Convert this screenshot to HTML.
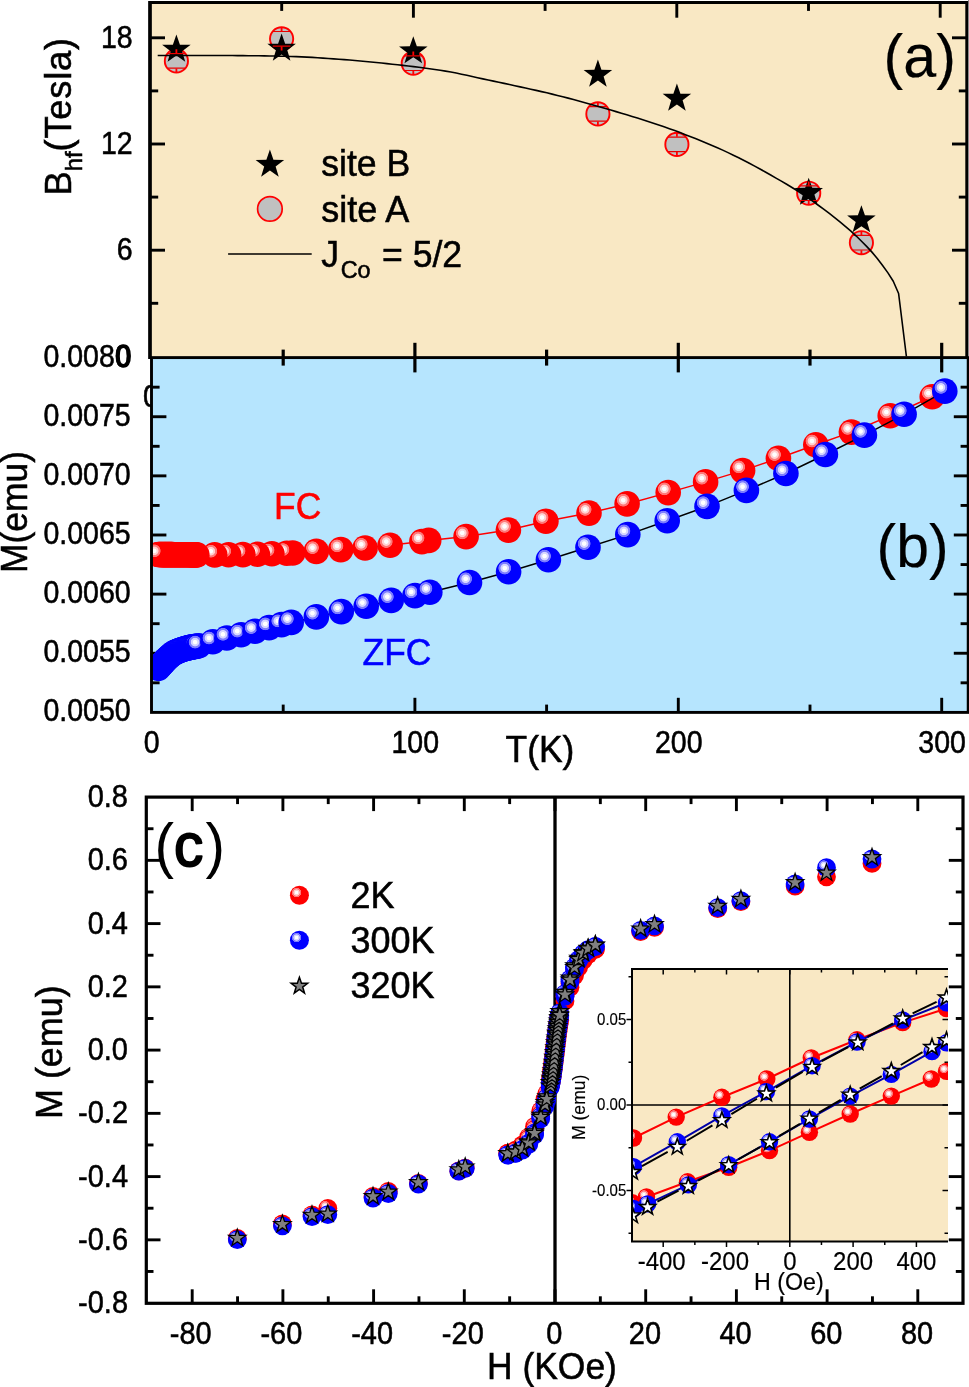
<!DOCTYPE html>
<html lang="en"><head><meta charset="utf-8"><title>Figure</title>
<style>html,body{margin:0;padding:0;background:#fff;overflow:hidden}svg{display:block;will-change:transform}text{font-family:"Liberation Sans", Arial, Helvetica, sans-serif}</style></head><body>
<svg width="969" height="1387" viewBox="0 0 969 1387">
<defs>
<radialGradient id="gr" cx="0.35" cy="0.355" r="0.26"><stop offset="0" stop-color="#fff"/><stop offset="0.28" stop-color="#fff"/><stop offset="0.40" stop-color="#ffd2d2"/><stop offset="0.58" stop-color="#ffd2d2"/><stop offset="0.70" stop-color="#ff7878"/><stop offset="0.90" stop-color="#ff7878"/><stop offset="1" stop-color="#ff0000"/></radialGradient>
<radialGradient id="gb" cx="0.35" cy="0.355" r="0.26"><stop offset="0" stop-color="#fff"/><stop offset="0.28" stop-color="#fff"/><stop offset="0.40" stop-color="#d6d6ff"/><stop offset="0.58" stop-color="#d6d6ff"/><stop offset="0.70" stop-color="#7c7cff"/><stop offset="0.90" stop-color="#7c7cff"/><stop offset="1" stop-color="#0000ff"/></radialGradient>
<clipPath id="clipB"><rect x="151.5" y="357.6" width="817.5" height="354.8"/></clipPath>
<clipPath id="clipI"><rect x="632" y="969" width="316" height="272.5"/></clipPath>
<clipPath id="clipA0"><rect x="0" y="0" width="969" height="355.2"/></clipPath>
</defs>
<rect x="0" y="0" width="969" height="1387" fill="#fff"/>
<rect x="150.0" y="2.5" width="816.7" height="355.1" fill="#f9e8c4"/>
<line x1="281.7" y1="2.5" x2="281.7" y2="10.9" stroke="#000" stroke-width="2.9"/>
<line x1="413.4" y1="2.5" x2="413.4" y2="17.7" stroke="#000" stroke-width="2.9"/>
<line x1="545.1" y1="2.5" x2="545.1" y2="10.9" stroke="#000" stroke-width="2.9"/>
<line x1="676.8" y1="2.5" x2="676.8" y2="17.7" stroke="#000" stroke-width="2.9"/>
<line x1="808.5" y1="2.5" x2="808.5" y2="10.9" stroke="#000" stroke-width="2.9"/>
<line x1="940.2" y1="2.5" x2="940.2" y2="17.7" stroke="#000" stroke-width="2.9"/>
<line x1="150" y1="303.3" x2="158.2" y2="303.3" stroke="#000" stroke-width="2.9"/>
<line x1="966.7" y1="303.3" x2="958.8" y2="303.3" stroke="#000" stroke-width="2.9"/>
<line x1="150" y1="250.2" x2="165" y2="250.2" stroke="#000" stroke-width="2.9"/>
<line x1="966.7" y1="250.2" x2="952" y2="250.2" stroke="#000" stroke-width="2.9"/>
<line x1="150" y1="197.1" x2="158.2" y2="197.1" stroke="#000" stroke-width="2.9"/>
<line x1="966.7" y1="197.1" x2="958.8" y2="197.1" stroke="#000" stroke-width="2.9"/>
<line x1="150" y1="144" x2="165" y2="144" stroke="#000" stroke-width="2.9"/>
<line x1="966.7" y1="144" x2="952" y2="144" stroke="#000" stroke-width="2.9"/>
<line x1="150" y1="90.9" x2="158.2" y2="90.9" stroke="#000" stroke-width="2.9"/>
<line x1="966.7" y1="90.9" x2="958.8" y2="90.9" stroke="#000" stroke-width="2.9"/>
<line x1="150" y1="37.8" x2="165" y2="37.8" stroke="#000" stroke-width="2.9"/>
<line x1="966.7" y1="37.8" x2="952" y2="37.8" stroke="#000" stroke-width="2.9"/>
<circle cx="176.4" cy="60.9" r="11.6" fill="#c0c0c0" stroke="#ff0000" stroke-width="1.9"/>
<circle cx="281.6" cy="38.8" r="11.6" fill="#c0c0c0" stroke="#ff0000" stroke-width="1.9"/>
<circle cx="413.3" cy="63.2" r="11.6" fill="#c0c0c0" stroke="#ff0000" stroke-width="1.9"/>
<circle cx="597.9" cy="113.9" r="11.6" fill="#c0c0c0" stroke="#ff0000" stroke-width="1.9"/>
<circle cx="676.9" cy="144.4" r="11.6" fill="#c0c0c0" stroke="#ff0000" stroke-width="1.9"/>
<circle cx="808.7" cy="193.2" r="11.6" fill="#c0c0c0" stroke="#ff0000" stroke-width="1.9"/>
<circle cx="861.4" cy="242.7" r="11.6" fill="#c0c0c0" stroke="#ff0000" stroke-width="1.9"/>
<polygon points="176.4,34.5 179.93,44.65 190.67,44.86 182.11,51.35 185.22,61.64 176.4,55.5 167.58,61.64 170.69,51.35 162.13,44.86 172.87,44.65" fill="#000"/>
<polygon points="281.6,33.5 285.13,43.65 295.87,43.86 287.31,50.35 290.42,60.64 281.6,54.5 272.78,60.64 275.89,50.35 267.33,43.86 278.07,43.65" fill="#000"/>
<polygon points="413.3,36.2 416.83,46.35 427.57,46.56 419.01,53.05 422.12,63.34 413.3,57.2 404.48,63.34 407.59,53.05 399.03,46.56 409.77,46.35" fill="#000"/>
<polygon points="597.9,59.6 601.43,69.75 612.17,69.96 603.61,76.45 606.72,86.74 597.9,80.6 589.08,86.74 592.19,76.45 583.63,69.96 594.37,69.75" fill="#000"/>
<polygon points="676.9,83.5 680.43,93.65 691.17,93.86 682.61,100.35 685.72,110.64 676.9,104.5 668.08,110.64 671.19,100.35 662.63,93.86 673.37,93.65" fill="#000"/>
<polygon points="808.7,177.7 812.23,187.85 822.97,188.06 814.41,194.55 817.52,204.84 808.7,198.7 799.88,204.84 802.99,194.55 794.43,188.06 805.17,187.85" fill="#000"/>
<polygon points="861.4,205.2 864.93,215.35 875.67,215.56 867.11,222.05 870.22,232.34 861.4,226.2 852.58,232.34 855.69,222.05 847.13,215.56 857.87,215.35" fill="#000"/>
<path stroke="#e80000" stroke-width="1.2" fill="none" d="M167.6 53.6H185.2M167.6 68.2H185.2"/><path stroke="#ff0000" stroke-width="1.8" fill="none" d="M176.4 49.3V53.3M176.4 72.5V68.5"/>
<path stroke="#e80000" stroke-width="1.2" fill="none" d="M272.8 31.5H290.4M272.8 46.1H290.4"/><path stroke="#ff0000" stroke-width="1.8" fill="none" d="M281.6 27.2V31.2M281.6 50.4V46.4"/>
<path stroke="#e80000" stroke-width="1.2" fill="none" d="M404.5 55.9H422.1M404.5 70.5H422.1"/><path stroke="#ff0000" stroke-width="1.8" fill="none" d="M413.3 51.6V55.6M413.3 74.8V70.8"/>
<path stroke="#e80000" stroke-width="1.2" fill="none" d="M589.1 106.6H606.7M589.1 121.2H606.7"/><path stroke="#ff0000" stroke-width="1.8" fill="none" d="M597.9 102.3V106.3M597.9 125.5V121.5"/>
<path stroke="#e80000" stroke-width="1.2" fill="none" d="M668.1 137.1H685.7M668.1 151.7H685.7"/><path stroke="#ff0000" stroke-width="1.8" fill="none" d="M676.9 132.8V136.8M676.9 156V152"/>
<path stroke="#e80000" stroke-width="1.2" fill="none" d="M799.9 185.9H817.5M799.9 200.5H817.5"/><path stroke="#ff0000" stroke-width="1.8" fill="none" d="M808.7 181.6V185.6M808.7 204.8V200.8"/>
<path stroke="#e80000" stroke-width="1.2" fill="none" d="M852.6 235.4H870.2M852.6 250H870.2"/><path stroke="#ff0000" stroke-width="1.8" fill="none" d="M861.4 231.1V235.1M861.4 254.3V250.3"/>
<path d="M157.7 55.5 L163.03 55.5 L168.36 55.5 L173.69 55.5 L179.02 55.5 L184.35 55.5 L189.68 55.5 L195.01 55.5 L200.34 55.5 L205.67 55.5 L211 55.5 L216.33 55.5 L221.66 55.52 L226.99 55.54 L232.32 55.57 L237.65 55.61 L242.98 55.65 L248.31 55.7 L253.64 55.75 L258.97 55.81 L264.3 55.87 L269.63 55.96 L274.96 56.06 L280.29 56.18 L285.63 56.31 L290.96 56.46 L296.29 56.63 L301.62 56.83 L306.95 57.09 L312.28 57.39 L317.61 57.73 L322.94 58.09 L328.27 58.47 L333.6 58.84 L338.93 59.23 L344.26 59.64 L349.59 60.07 L354.92 60.53 L360.25 61.01 L365.58 61.5 L370.91 62 L376.24 62.52 L381.57 63.06 L386.9 63.62 L392.23 64.19 L397.56 64.78 L402.89 65.39 L408.22 66.01 L413.55 66.65 L418.88 67.31 L424.21 68.01 L429.54 68.73 L434.87 69.49 L440.2 70.29 L445.53 71.14 L450.86 72.05 L456.19 73.06 L461.52 74.16 L466.85 75.31 L472.18 76.5 L477.51 77.69 L482.84 78.87 L488.17 80.01 L493.5 81.14 L498.83 82.27 L504.16 83.39 L509.49 84.53 L514.82 85.68 L520.15 86.85 L525.48 88.02 L530.82 89.2 L536.15 90.4 L541.48 91.61 L546.81 92.84 L552.14 94.11 L557.47 95.41 L562.8 96.75 L568.13 98.13 L573.46 99.54 L578.79 100.98 L584.12 102.43 L589.45 103.91 L594.78 105.4 L600.11 106.92 L605.44 108.47 L610.77 110.04 L616.1 111.63 L621.43 113.23 L626.76 114.85 L632.09 116.47 L637.42 118.11 L642.75 119.75 L648.08 121.43 L653.41 123.16 L658.74 124.93 L664.07 126.77 L669.4 128.66 L674.73 130.6 L680.06 132.59 L685.39 134.63 L690.72 136.7 L696.05 138.81 L701.38 140.96 L706.71 143.16 L712.04 145.42 L717.37 147.74 L722.7 150.14 L728.03 152.61 L733.36 155.18 L738.69 157.84 L744.02 160.55 L749.35 163.32 L754.68 166.15 L760.01 169.05 L765.34 172.02 L770.67 175.03 L776.01 178.08 L781.34 181.14 L786.67 184.26 L792 187.45 L797.33 190.76 L802.66 194.23 L807.99 197.86 L813.32 201.61 L818.65 205.48 L823.98 209.43 L829.31 213.46 L834.64 217.59 L839.97 221.85 L845.3 226.27 L850.63 230.89 L855.96 235.8 L861.29 240.99 L866.62 246.38 L871.95 252.13 L877.28 258.5 L882.61 265.49 L887.94 272.88 L893.27 281.23 L898.6 293.5 L906.4 356.5" fill="none" stroke="#000" stroke-width="1.6" stroke-linejoin="round"/>
<polygon points="269.9,149.6 273.43,159.75 284.17,159.96 275.61,166.45 278.72,176.74 269.9,170.6 261.08,176.74 264.19,166.45 255.63,159.96 266.37,159.75" fill="#000"/>
<circle cx="269.9" cy="208.9" r="12.3" fill="#c0c0c0" stroke="#ff0000" stroke-width="1.7"/>
<line x1="228.1" y1="254" x2="311.7" y2="254" stroke="#000" stroke-width="1.6"/>
<text transform="translate(321.2 176.3) scale(0.955 1)" font-size="37.3" text-anchor="start" fill="#000" stroke="#000" stroke-width="0.55">site B</text>
<text transform="translate(321.2 221.7) scale(0.965 1)" font-size="37.3" text-anchor="start" fill="#000" stroke="#000" stroke-width="0.55">site A</text>
<text transform="translate(321.2 266.8) scale(0.955 1)" font-size="37.3" text-anchor="start" fill="#000" stroke="#000" stroke-width="0.55">J<tspan font-size="24.5" dy="11" dx="1.8">Co</tspan><tspan dy="-11" dx="1.5"> = 5/2</tspan></text>
<text transform="translate(883.5 76.6) scale(0.955 1)" font-size="62" text-anchor="start" fill="#000" stroke="#000" stroke-width="0.2">(a)</text>
<text transform="translate(132.6 47.5) scale(0.935 1)" font-size="30.5" text-anchor="end" fill="#000" stroke="#000" stroke-width="0.55">18</text>
<text transform="translate(132.6 153.7) scale(0.935 1)" font-size="30.5" text-anchor="end" fill="#000" stroke="#000" stroke-width="0.55">12</text>
<text transform="translate(132.6 259.9) scale(0.935 1)" font-size="30.5" text-anchor="end" fill="#000" stroke="#000" stroke-width="0.55">6</text>
<text transform="translate(70.8 195.5) rotate(-90) scale(0.97 1)" font-size="37.5" text-anchor="start" fill="#000" stroke="#000" stroke-width="0.55">B<tspan font-size="24.5" dy="11">hf</tspan><tspan dy="-11" letter-spacing="0.75">(Tesla)</tspan></text>
<text transform="translate(131.3 366.7) scale(0.935 1)" font-size="30.5" text-anchor="end" fill="#000" stroke="#000" stroke-width="1.5">0</text>
<text transform="translate(151 406.5) scale(0.935 1)" font-size="30.5" text-anchor="middle" fill="#000" stroke="#000" stroke-width="0.55">0</text>
<rect x="151.5" y="357.6" width="816.7" height="354.8" fill="#b6e5fe"/>
<line x1="283.2" y1="349.6" x2="283.2" y2="365.6" stroke="#000" stroke-width="3.2"/>
<line x1="283.2" y1="712.4" x2="283.2" y2="704.6" stroke="#000" stroke-width="2.9"/>
<line x1="414.9" y1="342.8" x2="414.9" y2="372.4" stroke="#000" stroke-width="3.2"/>
<line x1="414.9" y1="712.4" x2="414.9" y2="697.8" stroke="#000" stroke-width="2.9"/>
<line x1="546.6" y1="349.6" x2="546.6" y2="365.6" stroke="#000" stroke-width="3.2"/>
<line x1="546.6" y1="712.4" x2="546.6" y2="704.6" stroke="#000" stroke-width="2.9"/>
<line x1="678.3" y1="342.8" x2="678.3" y2="372.4" stroke="#000" stroke-width="3.2"/>
<line x1="678.3" y1="712.4" x2="678.3" y2="697.8" stroke="#000" stroke-width="2.9"/>
<line x1="810" y1="349.6" x2="810" y2="365.6" stroke="#000" stroke-width="3.2"/>
<line x1="810" y1="712.4" x2="810" y2="704.6" stroke="#000" stroke-width="2.9"/>
<line x1="941.7" y1="342.8" x2="941.7" y2="372.4" stroke="#000" stroke-width="3.2"/>
<line x1="941.7" y1="712.4" x2="941.7" y2="697.8" stroke="#000" stroke-width="2.9"/>
<line x1="151.5" y1="387.17" x2="159.6" y2="387.17" stroke="#000" stroke-width="2.9"/>
<line x1="968.2" y1="387.17" x2="960.6" y2="387.17" stroke="#000" stroke-width="2.9"/>
<line x1="151.5" y1="416.73" x2="166.4" y2="416.73" stroke="#000" stroke-width="2.9"/>
<line x1="968.2" y1="416.73" x2="953.8" y2="416.73" stroke="#000" stroke-width="2.9"/>
<line x1="151.5" y1="446.3" x2="159.6" y2="446.3" stroke="#000" stroke-width="2.9"/>
<line x1="968.2" y1="446.3" x2="960.6" y2="446.3" stroke="#000" stroke-width="2.9"/>
<line x1="151.5" y1="475.86" x2="166.4" y2="475.86" stroke="#000" stroke-width="2.9"/>
<line x1="968.2" y1="475.86" x2="953.8" y2="475.86" stroke="#000" stroke-width="2.9"/>
<line x1="151.5" y1="505.43" x2="159.6" y2="505.43" stroke="#000" stroke-width="2.9"/>
<line x1="968.2" y1="505.43" x2="960.6" y2="505.43" stroke="#000" stroke-width="2.9"/>
<line x1="151.5" y1="534.99" x2="166.4" y2="534.99" stroke="#000" stroke-width="2.9"/>
<line x1="968.2" y1="534.99" x2="953.8" y2="534.99" stroke="#000" stroke-width="2.9"/>
<line x1="151.5" y1="564.56" x2="159.6" y2="564.56" stroke="#000" stroke-width="2.9"/>
<line x1="968.2" y1="564.56" x2="960.6" y2="564.56" stroke="#000" stroke-width="2.9"/>
<line x1="151.5" y1="594.12" x2="166.4" y2="594.12" stroke="#000" stroke-width="2.9"/>
<line x1="968.2" y1="594.12" x2="953.8" y2="594.12" stroke="#000" stroke-width="2.9"/>
<line x1="151.5" y1="623.69" x2="159.6" y2="623.69" stroke="#000" stroke-width="2.9"/>
<line x1="968.2" y1="623.69" x2="960.6" y2="623.69" stroke="#000" stroke-width="2.9"/>
<line x1="151.5" y1="653.25" x2="166.4" y2="653.25" stroke="#000" stroke-width="2.9"/>
<line x1="968.2" y1="653.25" x2="953.8" y2="653.25" stroke="#000" stroke-width="2.9"/>
<line x1="151.5" y1="682.82" x2="159.6" y2="682.82" stroke="#000" stroke-width="2.9"/>
<line x1="968.2" y1="682.82" x2="960.6" y2="682.82" stroke="#000" stroke-width="2.9"/>
<g clip-path="url(#clipB)">
<polyline fill="none" stroke="#ff0000" stroke-width="1.5" points="158.09,554.55 159.2,554.56 160.3,554.57 161.41,554.58 162.52,554.59 163.62,554.6 164.73,554.61 165.83,554.62 166.94,554.63 168.05,554.64 169.15,554.65 170.26,554.65 171.37,554.66 172.47,554.67 173.58,554.68 174.68,554.69 175.79,554.7 176.9,554.71 178,554.72 179.11,554.73 180.22,554.74 181.32,554.75 182.43,554.76 183.53,554.77 184.64,554.78 185.75,554.79 186.85,554.79 187.96,554.8 189.07,554.81 190.17,554.82 191.28,554.83 192.38,554.84 193.49,554.85 194.6,554.86 195.7,554.87 196.81,554.88 214.7,554.9 228.6,554.8 242.9,554.6 257.4,554.2 271.9,553.8 286.8,553.3 292.7,553 316.3,551.4 340.8,549.6 365.1,548 390.1,545.3 421.9,541.6 428.7,540.4 466.1,536.6 508.4,530.1 545.9,521.2 589,513.1 627.1,503.9 668.2,492.6 705.6,481.9 742.6,470.6 778.4,458.3 815.8,444.7 851.4,432.1 890.2,415.8 932.2,396.8"/>
<circle cx="932.2" cy="396.8" r="12.8" fill="url(#gr)"/>
<circle cx="890.2" cy="415.8" r="12.8" fill="url(#gr)"/>
<circle cx="851.4" cy="432.1" r="12.8" fill="url(#gr)"/>
<circle cx="815.8" cy="444.7" r="12.8" fill="url(#gr)"/>
<circle cx="778.4" cy="458.3" r="12.8" fill="url(#gr)"/>
<circle cx="742.6" cy="470.6" r="12.8" fill="url(#gr)"/>
<circle cx="705.6" cy="481.9" r="12.8" fill="url(#gr)"/>
<circle cx="668.2" cy="492.6" r="12.8" fill="url(#gr)"/>
<circle cx="627.1" cy="503.9" r="12.8" fill="url(#gr)"/>
<circle cx="589" cy="513.1" r="12.8" fill="url(#gr)"/>
<circle cx="545.9" cy="521.2" r="12.8" fill="url(#gr)"/>
<circle cx="508.4" cy="530.1" r="12.8" fill="url(#gr)"/>
<circle cx="466.1" cy="536.6" r="12.8" fill="url(#gr)"/>
<circle cx="428.7" cy="540.4" r="12.8" fill="url(#gr)"/>
<circle cx="421.9" cy="541.6" r="12.8" fill="url(#gr)"/>
<circle cx="390.1" cy="545.3" r="12.8" fill="url(#gr)"/>
<circle cx="365.1" cy="548" r="12.8" fill="url(#gr)"/>
<circle cx="340.8" cy="549.6" r="12.8" fill="url(#gr)"/>
<circle cx="316.3" cy="551.4" r="12.8" fill="url(#gr)"/>
<circle cx="292.7" cy="553" r="12.8" fill="url(#gr)"/>
<circle cx="286.8" cy="553.3" r="12.8" fill="url(#gr)"/>
<circle cx="271.9" cy="553.8" r="12.8" fill="url(#gr)"/>
<circle cx="257.4" cy="554.2" r="12.8" fill="url(#gr)"/>
<circle cx="242.9" cy="554.6" r="12.8" fill="url(#gr)"/>
<circle cx="228.6" cy="554.8" r="12.8" fill="url(#gr)"/>
<circle cx="214.7" cy="554.9" r="12.8" fill="url(#gr)"/>
<circle cx="196.81" cy="554.88" r="12.8" fill="url(#gr)"/>
<circle cx="195.7" cy="554.87" r="12.8" fill="url(#gr)"/>
<circle cx="194.6" cy="554.86" r="12.8" fill="url(#gr)"/>
<circle cx="193.49" cy="554.85" r="12.8" fill="url(#gr)"/>
<circle cx="192.38" cy="554.84" r="12.8" fill="url(#gr)"/>
<circle cx="191.28" cy="554.83" r="12.8" fill="url(#gr)"/>
<circle cx="190.17" cy="554.82" r="12.8" fill="url(#gr)"/>
<circle cx="189.07" cy="554.81" r="12.8" fill="url(#gr)"/>
<circle cx="187.96" cy="554.8" r="12.8" fill="url(#gr)"/>
<circle cx="186.85" cy="554.79" r="12.8" fill="url(#gr)"/>
<circle cx="185.75" cy="554.79" r="12.8" fill="url(#gr)"/>
<circle cx="184.64" cy="554.78" r="12.8" fill="url(#gr)"/>
<circle cx="183.53" cy="554.77" r="12.8" fill="url(#gr)"/>
<circle cx="182.43" cy="554.76" r="12.8" fill="url(#gr)"/>
<circle cx="181.32" cy="554.75" r="12.8" fill="url(#gr)"/>
<circle cx="180.22" cy="554.74" r="12.8" fill="url(#gr)"/>
<circle cx="179.11" cy="554.73" r="12.8" fill="url(#gr)"/>
<circle cx="178" cy="554.72" r="12.8" fill="url(#gr)"/>
<circle cx="176.9" cy="554.71" r="12.8" fill="url(#gr)"/>
<circle cx="175.79" cy="554.7" r="12.8" fill="url(#gr)"/>
<circle cx="174.68" cy="554.69" r="12.8" fill="url(#gr)"/>
<circle cx="173.58" cy="554.68" r="12.8" fill="url(#gr)"/>
<circle cx="172.47" cy="554.67" r="12.8" fill="url(#gr)"/>
<circle cx="171.37" cy="554.66" r="12.8" fill="url(#gr)"/>
<circle cx="170.26" cy="554.65" r="12.8" fill="url(#gr)"/>
<circle cx="169.15" cy="554.65" r="12.8" fill="url(#gr)"/>
<circle cx="168.05" cy="554.64" r="12.8" fill="url(#gr)"/>
<circle cx="166.94" cy="554.63" r="12.8" fill="url(#gr)"/>
<circle cx="165.83" cy="554.62" r="12.8" fill="url(#gr)"/>
<circle cx="164.73" cy="554.61" r="12.8" fill="url(#gr)"/>
<circle cx="163.62" cy="554.6" r="12.8" fill="url(#gr)"/>
<circle cx="162.52" cy="554.59" r="12.8" fill="url(#gr)"/>
<circle cx="161.41" cy="554.58" r="12.8" fill="url(#gr)"/>
<circle cx="160.3" cy="554.57" r="12.8" fill="url(#gr)"/>
<circle cx="159.2" cy="554.56" r="12.8" fill="url(#gr)"/>
<circle cx="158.09" cy="554.55" r="12.8" fill="url(#gr)"/>
<polyline fill="none" stroke="#000" stroke-width="1.5" points="158.09,668.33 159.2,667.23 160.3,666.05 161.41,664.78 162.52,663.51 163.62,662.28 164.73,661.04 165.83,659.84 166.94,658.71 168.05,657.69 169.15,656.72 170.26,655.79 171.37,654.9 172.47,654.07 173.58,653.32 174.68,652.67 175.79,652.1 176.9,651.57 178,651.08 179.11,650.63 180.22,650.21 181.32,649.81 182.43,649.44 183.53,649.09 184.64,648.76 185.75,648.44 186.85,648.14 187.96,647.86 189.07,647.59 190.17,647.35 191.28,647.13 192.38,646.92 193.49,646.71 194.6,646.52 195.7,646.34 196.81,646.18 198.9,645.8 212.8,641.7 226.8,638 241.1,634.8 255,631.3 269.1,627.6 281.6,624.6 291.2,622.4 316.3,616.9 341.3,611.6 366.2,606.3 391.2,600.4 415,595.6 429.8,592.2 469.5,582.5 508.6,571.8 548.4,559.8 588,547.3 627.8,534.6 667.2,520.8 707,506.4 746.4,490.4 785.9,473.5 825.4,454.5 864.4,435.1 904.1,414.3 944.8,391.1"/>
<circle cx="158.09" cy="668.33" r="12.8" fill="url(#gb)"/>
<circle cx="159.2" cy="667.23" r="12.8" fill="url(#gb)"/>
<circle cx="160.3" cy="666.05" r="12.8" fill="url(#gb)"/>
<circle cx="161.41" cy="664.78" r="12.8" fill="url(#gb)"/>
<circle cx="162.52" cy="663.51" r="12.8" fill="url(#gb)"/>
<circle cx="163.62" cy="662.28" r="12.8" fill="url(#gb)"/>
<circle cx="164.73" cy="661.04" r="12.8" fill="url(#gb)"/>
<circle cx="165.83" cy="659.84" r="12.8" fill="url(#gb)"/>
<circle cx="166.94" cy="658.71" r="12.8" fill="url(#gb)"/>
<circle cx="168.05" cy="657.69" r="12.8" fill="url(#gb)"/>
<circle cx="169.15" cy="656.72" r="12.8" fill="url(#gb)"/>
<circle cx="170.26" cy="655.79" r="12.8" fill="url(#gb)"/>
<circle cx="171.37" cy="654.9" r="12.8" fill="url(#gb)"/>
<circle cx="172.47" cy="654.07" r="12.8" fill="url(#gb)"/>
<circle cx="173.58" cy="653.32" r="12.8" fill="url(#gb)"/>
<circle cx="174.68" cy="652.67" r="12.8" fill="url(#gb)"/>
<circle cx="175.79" cy="652.1" r="12.8" fill="url(#gb)"/>
<circle cx="176.9" cy="651.57" r="12.8" fill="url(#gb)"/>
<circle cx="178" cy="651.08" r="12.8" fill="url(#gb)"/>
<circle cx="179.11" cy="650.63" r="12.8" fill="url(#gb)"/>
<circle cx="180.22" cy="650.21" r="12.8" fill="url(#gb)"/>
<circle cx="181.32" cy="649.81" r="12.8" fill="url(#gb)"/>
<circle cx="182.43" cy="649.44" r="12.8" fill="url(#gb)"/>
<circle cx="183.53" cy="649.09" r="12.8" fill="url(#gb)"/>
<circle cx="184.64" cy="648.76" r="12.8" fill="url(#gb)"/>
<circle cx="185.75" cy="648.44" r="12.8" fill="url(#gb)"/>
<circle cx="186.85" cy="648.14" r="12.8" fill="url(#gb)"/>
<circle cx="187.96" cy="647.86" r="12.8" fill="url(#gb)"/>
<circle cx="189.07" cy="647.59" r="12.8" fill="url(#gb)"/>
<circle cx="190.17" cy="647.35" r="12.8" fill="url(#gb)"/>
<circle cx="191.28" cy="647.13" r="12.8" fill="url(#gb)"/>
<circle cx="192.38" cy="646.92" r="12.8" fill="url(#gb)"/>
<circle cx="193.49" cy="646.71" r="12.8" fill="url(#gb)"/>
<circle cx="194.6" cy="646.52" r="12.8" fill="url(#gb)"/>
<circle cx="195.7" cy="646.34" r="12.8" fill="url(#gb)"/>
<circle cx="196.81" cy="646.18" r="12.8" fill="url(#gb)"/>
<circle cx="198.9" cy="645.8" r="12.8" fill="url(#gb)"/>
<circle cx="212.8" cy="641.7" r="12.8" fill="url(#gb)"/>
<circle cx="226.8" cy="638" r="12.8" fill="url(#gb)"/>
<circle cx="241.1" cy="634.8" r="12.8" fill="url(#gb)"/>
<circle cx="255" cy="631.3" r="12.8" fill="url(#gb)"/>
<circle cx="269.1" cy="627.6" r="12.8" fill="url(#gb)"/>
<circle cx="281.6" cy="624.6" r="12.8" fill="url(#gb)"/>
<circle cx="291.2" cy="622.4" r="12.8" fill="url(#gb)"/>
<circle cx="316.3" cy="616.9" r="12.8" fill="url(#gb)"/>
<circle cx="341.3" cy="611.6" r="12.8" fill="url(#gb)"/>
<circle cx="366.2" cy="606.3" r="12.8" fill="url(#gb)"/>
<circle cx="391.2" cy="600.4" r="12.8" fill="url(#gb)"/>
<circle cx="415" cy="595.6" r="12.8" fill="url(#gb)"/>
<circle cx="429.8" cy="592.2" r="12.8" fill="url(#gb)"/>
<circle cx="469.5" cy="582.5" r="12.8" fill="url(#gb)"/>
<circle cx="508.6" cy="571.8" r="12.8" fill="url(#gb)"/>
<circle cx="548.4" cy="559.8" r="12.8" fill="url(#gb)"/>
<circle cx="588" cy="547.3" r="12.8" fill="url(#gb)"/>
<circle cx="627.8" cy="534.6" r="12.8" fill="url(#gb)"/>
<circle cx="667.2" cy="520.8" r="12.8" fill="url(#gb)"/>
<circle cx="707" cy="506.4" r="12.8" fill="url(#gb)"/>
<circle cx="746.4" cy="490.4" r="12.8" fill="url(#gb)"/>
<circle cx="785.9" cy="473.5" r="12.8" fill="url(#gb)"/>
<circle cx="825.4" cy="454.5" r="12.8" fill="url(#gb)"/>
<circle cx="864.4" cy="435.1" r="12.8" fill="url(#gb)"/>
<circle cx="904.1" cy="414.3" r="12.8" fill="url(#gb)"/>
<circle cx="944.8" cy="391.1" r="12.8" fill="url(#gb)"/>
</g>
<text transform="translate(274 519.3) scale(0.95 1)" font-size="37.3" text-anchor="start" fill="#ff0000" stroke="#ff0000" stroke-width="0.55">FC</text>
<text transform="translate(362.5 665.3) scale(0.95 1)" font-size="37.3" text-anchor="start" fill="#0000ff" stroke="#0000ff" stroke-width="0.55">ZFC</text>
<text transform="translate(876.6 566.9) scale(0.95 1)" font-size="62" text-anchor="start" fill="#000" stroke="#000" stroke-width="0.2">(b)</text>
<line x1="150" y1="1.05" x2="150" y2="359.05" stroke="#000" stroke-width="3.7"/>
<line x1="966.7" y1="1.05" x2="966.7" y2="357.6" stroke="#000" stroke-width="2.8"/>
<line x1="968.5" y1="0" x2="968.5" y2="356" stroke="#8a8a8a" stroke-width="1"/>
<line x1="150" y1="2.5" x2="968.1" y2="2.5" stroke="#000" stroke-width="2.9"/>
<rect x="151.5" y="357.6" width="816.7" height="354.8" fill="none" stroke="#000" stroke-width="2.9"/>
<text transform="translate(130.6 366.6) scale(0.935 1)" font-size="30.5" text-anchor="end" fill="#000" stroke="#000" stroke-width="0.55">0.0080</text>
<text transform="translate(130.6 425.73) scale(0.935 1)" font-size="30.5" text-anchor="end" fill="#000" stroke="#000" stroke-width="0.55">0.0075</text>
<text transform="translate(130.6 484.86) scale(0.935 1)" font-size="30.5" text-anchor="end" fill="#000" stroke="#000" stroke-width="0.55">0.0070</text>
<text transform="translate(130.6 543.99) scale(0.935 1)" font-size="30.5" text-anchor="end" fill="#000" stroke="#000" stroke-width="0.55">0.0065</text>
<text transform="translate(130.6 603.12) scale(0.935 1)" font-size="30.5" text-anchor="end" fill="#000" stroke="#000" stroke-width="0.55">0.0060</text>
<text transform="translate(130.6 662.25) scale(0.935 1)" font-size="30.5" text-anchor="end" fill="#000" stroke="#000" stroke-width="0.55">0.0055</text>
<text transform="translate(130.6 721.38) scale(0.935 1)" font-size="30.5" text-anchor="end" fill="#000" stroke="#000" stroke-width="0.55">0.0050</text>
<text transform="translate(151.7 753) scale(0.935 1)" font-size="30.5" text-anchor="middle" fill="#000" stroke="#000" stroke-width="0.55">0</text>
<text transform="translate(415.3 753) scale(0.935 1)" font-size="30.5" text-anchor="middle" fill="#000" stroke="#000" stroke-width="0.55">100</text>
<text transform="translate(678.7 753) scale(0.935 1)" font-size="30.5" text-anchor="middle" fill="#000" stroke="#000" stroke-width="0.55">200</text>
<text transform="translate(942.1 753) scale(0.935 1)" font-size="30.5" text-anchor="middle" fill="#000" stroke="#000" stroke-width="0.55">300</text>
<text transform="translate(505.5 762.3) scale(0.95 1)" font-size="37.3" text-anchor="start" fill="#000" stroke="#000" stroke-width="0.55">T(K)</text>
<text transform="translate(27.2 573) rotate(-90) scale(0.95 1)" font-size="37.3" text-anchor="start" fill="#000" stroke="#000" stroke-width="0.55">M(emu)</text>
<line x1="192.2" y1="797.1" x2="192.2" y2="811.1" stroke="#000" stroke-width="2.9"/>
<line x1="192.2" y1="1303.3" x2="192.2" y2="1289.3" stroke="#000" stroke-width="2.9"/>
<line x1="237.55" y1="797.1" x2="237.55" y2="804.1" stroke="#000" stroke-width="2.9"/>
<line x1="237.55" y1="1303.3" x2="237.55" y2="1296.3" stroke="#000" stroke-width="2.9"/>
<line x1="282.9" y1="797.1" x2="282.9" y2="811.1" stroke="#000" stroke-width="2.9"/>
<line x1="282.9" y1="1303.3" x2="282.9" y2="1289.3" stroke="#000" stroke-width="2.9"/>
<line x1="328.25" y1="797.1" x2="328.25" y2="804.1" stroke="#000" stroke-width="2.9"/>
<line x1="328.25" y1="1303.3" x2="328.25" y2="1296.3" stroke="#000" stroke-width="2.9"/>
<line x1="373.6" y1="797.1" x2="373.6" y2="811.1" stroke="#000" stroke-width="2.9"/>
<line x1="373.6" y1="1303.3" x2="373.6" y2="1289.3" stroke="#000" stroke-width="2.9"/>
<line x1="418.95" y1="797.1" x2="418.95" y2="804.1" stroke="#000" stroke-width="2.9"/>
<line x1="418.95" y1="1303.3" x2="418.95" y2="1296.3" stroke="#000" stroke-width="2.9"/>
<line x1="464.3" y1="797.1" x2="464.3" y2="811.1" stroke="#000" stroke-width="2.9"/>
<line x1="464.3" y1="1303.3" x2="464.3" y2="1289.3" stroke="#000" stroke-width="2.9"/>
<line x1="509.65" y1="797.1" x2="509.65" y2="804.1" stroke="#000" stroke-width="2.9"/>
<line x1="509.65" y1="1303.3" x2="509.65" y2="1296.3" stroke="#000" stroke-width="2.9"/>
<line x1="555" y1="797.1" x2="555" y2="811.1" stroke="#000" stroke-width="2.9"/>
<line x1="555" y1="1303.3" x2="555" y2="1289.3" stroke="#000" stroke-width="2.9"/>
<line x1="600.35" y1="797.1" x2="600.35" y2="804.1" stroke="#000" stroke-width="2.9"/>
<line x1="600.35" y1="1303.3" x2="600.35" y2="1296.3" stroke="#000" stroke-width="2.9"/>
<line x1="645.7" y1="797.1" x2="645.7" y2="811.1" stroke="#000" stroke-width="2.9"/>
<line x1="645.7" y1="1303.3" x2="645.7" y2="1289.3" stroke="#000" stroke-width="2.9"/>
<line x1="691.05" y1="797.1" x2="691.05" y2="804.1" stroke="#000" stroke-width="2.9"/>
<line x1="691.05" y1="1303.3" x2="691.05" y2="1296.3" stroke="#000" stroke-width="2.9"/>
<line x1="736.4" y1="797.1" x2="736.4" y2="811.1" stroke="#000" stroke-width="2.9"/>
<line x1="736.4" y1="1303.3" x2="736.4" y2="1289.3" stroke="#000" stroke-width="2.9"/>
<line x1="781.75" y1="797.1" x2="781.75" y2="804.1" stroke="#000" stroke-width="2.9"/>
<line x1="781.75" y1="1303.3" x2="781.75" y2="1296.3" stroke="#000" stroke-width="2.9"/>
<line x1="827.1" y1="797.1" x2="827.1" y2="811.1" stroke="#000" stroke-width="2.9"/>
<line x1="827.1" y1="1303.3" x2="827.1" y2="1289.3" stroke="#000" stroke-width="2.9"/>
<line x1="872.45" y1="797.1" x2="872.45" y2="804.1" stroke="#000" stroke-width="2.9"/>
<line x1="872.45" y1="1303.3" x2="872.45" y2="1296.3" stroke="#000" stroke-width="2.9"/>
<line x1="917.8" y1="797.1" x2="917.8" y2="811.1" stroke="#000" stroke-width="2.9"/>
<line x1="917.8" y1="1303.3" x2="917.8" y2="1289.3" stroke="#000" stroke-width="2.9"/>
<line x1="146.3" y1="828.73" x2="153.5" y2="828.73" stroke="#000" stroke-width="2.9"/>
<line x1="963" y1="828.73" x2="955.8" y2="828.73" stroke="#000" stroke-width="2.9"/>
<line x1="146.3" y1="860.35" x2="160.5" y2="860.35" stroke="#000" stroke-width="2.9"/>
<line x1="963" y1="860.35" x2="948.8" y2="860.35" stroke="#000" stroke-width="2.9"/>
<line x1="146.3" y1="891.98" x2="153.5" y2="891.98" stroke="#000" stroke-width="2.9"/>
<line x1="963" y1="891.98" x2="955.8" y2="891.98" stroke="#000" stroke-width="2.9"/>
<line x1="146.3" y1="923.6" x2="160.5" y2="923.6" stroke="#000" stroke-width="2.9"/>
<line x1="963" y1="923.6" x2="948.8" y2="923.6" stroke="#000" stroke-width="2.9"/>
<line x1="146.3" y1="955.23" x2="153.5" y2="955.23" stroke="#000" stroke-width="2.9"/>
<line x1="963" y1="955.23" x2="955.8" y2="955.23" stroke="#000" stroke-width="2.9"/>
<line x1="146.3" y1="986.85" x2="160.5" y2="986.85" stroke="#000" stroke-width="2.9"/>
<line x1="963" y1="986.85" x2="948.8" y2="986.85" stroke="#000" stroke-width="2.9"/>
<line x1="146.3" y1="1018.48" x2="153.5" y2="1018.48" stroke="#000" stroke-width="2.9"/>
<line x1="963" y1="1018.48" x2="955.8" y2="1018.48" stroke="#000" stroke-width="2.9"/>
<line x1="146.3" y1="1050.1" x2="160.5" y2="1050.1" stroke="#000" stroke-width="2.9"/>
<line x1="963" y1="1050.1" x2="948.8" y2="1050.1" stroke="#000" stroke-width="2.9"/>
<line x1="146.3" y1="1081.72" x2="153.5" y2="1081.72" stroke="#000" stroke-width="2.9"/>
<line x1="963" y1="1081.72" x2="955.8" y2="1081.72" stroke="#000" stroke-width="2.9"/>
<line x1="146.3" y1="1113.35" x2="160.5" y2="1113.35" stroke="#000" stroke-width="2.9"/>
<line x1="963" y1="1113.35" x2="948.8" y2="1113.35" stroke="#000" stroke-width="2.9"/>
<line x1="146.3" y1="1144.97" x2="153.5" y2="1144.97" stroke="#000" stroke-width="2.9"/>
<line x1="963" y1="1144.97" x2="955.8" y2="1144.97" stroke="#000" stroke-width="2.9"/>
<line x1="146.3" y1="1176.6" x2="160.5" y2="1176.6" stroke="#000" stroke-width="2.9"/>
<line x1="963" y1="1176.6" x2="948.8" y2="1176.6" stroke="#000" stroke-width="2.9"/>
<line x1="146.3" y1="1208.22" x2="153.5" y2="1208.22" stroke="#000" stroke-width="2.9"/>
<line x1="963" y1="1208.22" x2="955.8" y2="1208.22" stroke="#000" stroke-width="2.9"/>
<line x1="146.3" y1="1239.85" x2="160.5" y2="1239.85" stroke="#000" stroke-width="2.9"/>
<line x1="963" y1="1239.85" x2="948.8" y2="1239.85" stroke="#000" stroke-width="2.9"/>
<line x1="146.3" y1="1271.47" x2="153.5" y2="1271.47" stroke="#000" stroke-width="2.9"/>
<line x1="963" y1="1271.47" x2="955.8" y2="1271.47" stroke="#000" stroke-width="2.9"/>
<line x1="555" y1="797.1" x2="555" y2="1303.3" stroke="#000" stroke-width="3.3"/>
<circle cx="237.3" cy="1238.5" r="9.4" fill="url(#gr)"/>
<circle cx="282.4" cy="1224" r="9.4" fill="url(#gr)"/>
<circle cx="312" cy="1214.8" r="9.4" fill="url(#gr)"/>
<circle cx="327.8" cy="1208.3" r="9.4" fill="url(#gr)"/>
<circle cx="373" cy="1196.4" r="9.4" fill="url(#gr)"/>
<circle cx="388.3" cy="1191.5" r="9.4" fill="url(#gr)"/>
<circle cx="418.4" cy="1183.4" r="9.4" fill="url(#gr)"/>
<circle cx="458.8" cy="1170.9" r="9.4" fill="url(#gr)"/>
<circle cx="465.2" cy="1168.1" r="9.4" fill="url(#gr)"/>
<circle cx="640.6" cy="931.7" r="9.4" fill="url(#gr)"/>
<circle cx="654.5" cy="927.3" r="9.4" fill="url(#gr)"/>
<circle cx="717.7" cy="908.6" r="9.4" fill="url(#gr)"/>
<circle cx="740.9" cy="901.7" r="9.4" fill="url(#gr)"/>
<circle cx="795.1" cy="886" r="9.4" fill="url(#gr)"/>
<circle cx="826.5" cy="876.8" r="9.4" fill="url(#gr)"/>
<circle cx="872" cy="863.4" r="9.4" fill="url(#gr)"/>
<circle cx="595.36" cy="948.88" r="9.4" fill="url(#gr)"/>
<circle cx="588.11" cy="953.83" r="9.4" fill="url(#gr)"/>
<circle cx="583.12" cy="958.96" r="9.4" fill="url(#gr)"/>
<circle cx="578.58" cy="965.13" r="9.4" fill="url(#gr)"/>
<circle cx="574.5" cy="972.41" r="9.4" fill="url(#gr)"/>
<circle cx="569.97" cy="983.5" r="9.4" fill="url(#gr)"/>
<circle cx="564.98" cy="996.52" r="9.4" fill="url(#gr)"/>
<circle cx="559.72" cy="1013.93" r="9.4" fill="url(#gr)"/>
<circle cx="559.08" cy="1016.66" r="9.4" fill="url(#gr)"/>
<circle cx="558.54" cy="1019.2" r="9.4" fill="url(#gr)"/>
<circle cx="557.99" cy="1022.19" r="9.4" fill="url(#gr)"/>
<circle cx="557.45" cy="1025.64" r="9.4" fill="url(#gr)"/>
<circle cx="556.9" cy="1029.38" r="9.4" fill="url(#gr)"/>
<circle cx="556.36" cy="1033.29" r="9.4" fill="url(#gr)"/>
<circle cx="555.82" cy="1037.61" r="9.4" fill="url(#gr)"/>
<circle cx="555.27" cy="1042.22" r="9.4" fill="url(#gr)"/>
<circle cx="554.73" cy="1045.68" r="9.4" fill="url(#gr)"/>
<circle cx="554.18" cy="1050.25" r="9.4" fill="url(#gr)"/>
<circle cx="553.64" cy="1054.89" r="9.4" fill="url(#gr)"/>
<circle cx="553.1" cy="1059.58" r="9.4" fill="url(#gr)"/>
<circle cx="552.55" cy="1064.08" r="9.4" fill="url(#gr)"/>
<circle cx="552.01" cy="1068.2" r="9.4" fill="url(#gr)"/>
<circle cx="551.46" cy="1072.04" r="9.4" fill="url(#gr)"/>
<circle cx="550.92" cy="1075.68" r="9.4" fill="url(#gr)"/>
<circle cx="550.19" cy="1079.92" r="9.4" fill="url(#gr)"/>
<circle cx="546.7" cy="1093.81" r="9.4" fill="url(#gr)"/>
<circle cx="545.02" cy="1099.05" r="9.4" fill="url(#gr)"/>
<circle cx="540.71" cy="1110.94" r="9.4" fill="url(#gr)"/>
<circle cx="534.59" cy="1126.5" r="9.4" fill="url(#gr)"/>
<circle cx="528.7" cy="1137.05" r="9.4" fill="url(#gr)"/>
<circle cx="522.35" cy="1144.86" r="9.4" fill="url(#gr)"/>
<circle cx="515.55" cy="1150.22" r="9.4" fill="url(#gr)"/>
<circle cx="507.84" cy="1153.13" r="9.4" fill="url(#gr)"/>
<circle cx="507.84" cy="1153.47" r="9.4" fill="url(#gr)"/>
<circle cx="515.55" cy="1150.69" r="9.4" fill="url(#gr)"/>
<circle cx="522.35" cy="1145.77" r="9.4" fill="url(#gr)"/>
<circle cx="528.7" cy="1138.79" r="9.4" fill="url(#gr)"/>
<circle cx="534.59" cy="1129.39" r="9.4" fill="url(#gr)"/>
<circle cx="540.71" cy="1114.73" r="9.4" fill="url(#gr)"/>
<circle cx="545.02" cy="1103.48" r="9.4" fill="url(#gr)"/>
<circle cx="546.7" cy="1098.44" r="9.4" fill="url(#gr)"/>
<circle cx="550.19" cy="1086.44" r="9.4" fill="url(#gr)"/>
<circle cx="550.92" cy="1083.34" r="9.4" fill="url(#gr)"/>
<circle cx="551.46" cy="1080.8" r="9.4" fill="url(#gr)"/>
<circle cx="552.01" cy="1077.81" r="9.4" fill="url(#gr)"/>
<circle cx="552.55" cy="1074.36" r="9.4" fill="url(#gr)"/>
<circle cx="553.1" cy="1070.62" r="9.4" fill="url(#gr)"/>
<circle cx="553.64" cy="1066.71" r="9.4" fill="url(#gr)"/>
<circle cx="554.18" cy="1062.39" r="9.4" fill="url(#gr)"/>
<circle cx="554.73" cy="1057.78" r="9.4" fill="url(#gr)"/>
<circle cx="555.27" cy="1054.32" r="9.4" fill="url(#gr)"/>
<circle cx="555.82" cy="1049.75" r="9.4" fill="url(#gr)"/>
<circle cx="556.36" cy="1045.11" r="9.4" fill="url(#gr)"/>
<circle cx="556.9" cy="1040.42" r="9.4" fill="url(#gr)"/>
<circle cx="557.45" cy="1035.92" r="9.4" fill="url(#gr)"/>
<circle cx="557.99" cy="1031.8" r="9.4" fill="url(#gr)"/>
<circle cx="558.54" cy="1027.96" r="9.4" fill="url(#gr)"/>
<circle cx="559.08" cy="1024.32" r="9.4" fill="url(#gr)"/>
<circle cx="559.72" cy="1020.56" r="9.4" fill="url(#gr)"/>
<circle cx="564.98" cy="1000.95" r="9.4" fill="url(#gr)"/>
<circle cx="569.97" cy="987.33" r="9.4" fill="url(#gr)"/>
<circle cx="574.5" cy="975.53" r="9.4" fill="url(#gr)"/>
<circle cx="578.58" cy="967.3" r="9.4" fill="url(#gr)"/>
<circle cx="583.12" cy="960.4" r="9.4" fill="url(#gr)"/>
<circle cx="588.11" cy="954.7" r="9.4" fill="url(#gr)"/>
<circle cx="595.36" cy="949.28" r="9.4" fill="url(#gr)"/>
<circle cx="237.3" cy="1239.7" r="9.4" fill="url(#gb)"/>
<circle cx="282.4" cy="1225.8" r="9.4" fill="url(#gb)"/>
<circle cx="312" cy="1216.6" r="9.4" fill="url(#gb)"/>
<circle cx="327.8" cy="1214.7" r="9.4" fill="url(#gb)"/>
<circle cx="373" cy="1198" r="9.4" fill="url(#gb)"/>
<circle cx="388.3" cy="1193.5" r="9.4" fill="url(#gb)"/>
<circle cx="418.4" cy="1184" r="9.4" fill="url(#gb)"/>
<circle cx="458.8" cy="1171.2" r="9.4" fill="url(#gb)"/>
<circle cx="465.2" cy="1168.4" r="9.4" fill="url(#gb)"/>
<circle cx="640.6" cy="930.3" r="9.4" fill="url(#gb)"/>
<circle cx="654.5" cy="925.9" r="9.4" fill="url(#gb)"/>
<circle cx="717.7" cy="907.6" r="9.4" fill="url(#gb)"/>
<circle cx="740.9" cy="900.7" r="9.4" fill="url(#gb)"/>
<circle cx="795.1" cy="884" r="9.4" fill="url(#gb)"/>
<circle cx="826.5" cy="867.7" r="9.4" fill="url(#gb)"/>
<circle cx="872" cy="859" r="9.4" fill="url(#gb)"/>
<circle cx="595.36" cy="946.31" r="9.4" fill="url(#gb)"/>
<circle cx="588.11" cy="949.65" r="9.4" fill="url(#gb)"/>
<circle cx="583.12" cy="953.76" r="9.4" fill="url(#gb)"/>
<circle cx="578.58" cy="959.55" r="9.4" fill="url(#gb)"/>
<circle cx="574.5" cy="967.18" r="9.4" fill="url(#gb)"/>
<circle cx="569.97" cy="979.27" r="9.4" fill="url(#gb)"/>
<circle cx="564.98" cy="993.64" r="9.4" fill="url(#gb)"/>
<circle cx="559.72" cy="1012.85" r="9.4" fill="url(#gb)"/>
<circle cx="559.08" cy="1015.88" r="9.4" fill="url(#gb)"/>
<circle cx="558.54" cy="1018.78" r="9.4" fill="url(#gb)"/>
<circle cx="557.99" cy="1022.21" r="9.4" fill="url(#gb)"/>
<circle cx="557.45" cy="1026.02" r="9.4" fill="url(#gb)"/>
<circle cx="556.9" cy="1030.05" r="9.4" fill="url(#gb)"/>
<circle cx="556.36" cy="1034.36" r="9.4" fill="url(#gb)"/>
<circle cx="555.82" cy="1039.07" r="9.4" fill="url(#gb)"/>
<circle cx="555.27" cy="1043.96" r="9.4" fill="url(#gb)"/>
<circle cx="554.73" cy="1048.81" r="9.4" fill="url(#gb)"/>
<circle cx="554.18" cy="1053.6" r="9.4" fill="url(#gb)"/>
<circle cx="553.64" cy="1058.5" r="9.4" fill="url(#gb)"/>
<circle cx="553.1" cy="1063.32" r="9.4" fill="url(#gb)"/>
<circle cx="552.55" cy="1067.86" r="9.4" fill="url(#gb)"/>
<circle cx="552.01" cy="1071.98" r="9.4" fill="url(#gb)"/>
<circle cx="551.46" cy="1075.92" r="9.4" fill="url(#gb)"/>
<circle cx="550.92" cy="1079.56" r="9.4" fill="url(#gb)"/>
<circle cx="550.19" cy="1083.67" r="9.4" fill="url(#gb)"/>
<circle cx="546.7" cy="1098.05" r="9.4" fill="url(#gb)"/>
<circle cx="545.02" cy="1103.68" r="9.4" fill="url(#gb)"/>
<circle cx="540.71" cy="1116.54" r="9.4" fill="url(#gb)"/>
<circle cx="534.59" cy="1133.02" r="9.4" fill="url(#gb)"/>
<circle cx="528.7" cy="1143.18" r="9.4" fill="url(#gb)"/>
<circle cx="522.35" cy="1149.51" r="9.4" fill="url(#gb)"/>
<circle cx="515.55" cy="1153.14" r="9.4" fill="url(#gb)"/>
<circle cx="507.84" cy="1154.89" r="9.4" fill="url(#gb)"/>
<circle cx="507.84" cy="1155.1" r="9.4" fill="url(#gb)"/>
<circle cx="515.55" cy="1153.42" r="9.4" fill="url(#gb)"/>
<circle cx="522.35" cy="1150.06" r="9.4" fill="url(#gb)"/>
<circle cx="528.7" cy="1144.23" r="9.4" fill="url(#gb)"/>
<circle cx="534.59" cy="1134.75" r="9.4" fill="url(#gb)"/>
<circle cx="540.71" cy="1118.81" r="9.4" fill="url(#gb)"/>
<circle cx="545.02" cy="1106.36" r="9.4" fill="url(#gb)"/>
<circle cx="546.7" cy="1100.83" r="9.4" fill="url(#gb)"/>
<circle cx="550.19" cy="1087.56" r="9.4" fill="url(#gb)"/>
<circle cx="550.92" cy="1084.12" r="9.4" fill="url(#gb)"/>
<circle cx="551.46" cy="1081.22" r="9.4" fill="url(#gb)"/>
<circle cx="552.01" cy="1077.79" r="9.4" fill="url(#gb)"/>
<circle cx="552.55" cy="1073.98" r="9.4" fill="url(#gb)"/>
<circle cx="553.1" cy="1069.95" r="9.4" fill="url(#gb)"/>
<circle cx="553.64" cy="1065.64" r="9.4" fill="url(#gb)"/>
<circle cx="554.18" cy="1060.93" r="9.4" fill="url(#gb)"/>
<circle cx="554.73" cy="1056.04" r="9.4" fill="url(#gb)"/>
<circle cx="555.27" cy="1051.19" r="9.4" fill="url(#gb)"/>
<circle cx="555.82" cy="1046.4" r="9.4" fill="url(#gb)"/>
<circle cx="556.36" cy="1041.5" r="9.4" fill="url(#gb)"/>
<circle cx="556.9" cy="1036.68" r="9.4" fill="url(#gb)"/>
<circle cx="557.45" cy="1032.14" r="9.4" fill="url(#gb)"/>
<circle cx="557.99" cy="1028.02" r="9.4" fill="url(#gb)"/>
<circle cx="558.54" cy="1024.08" r="9.4" fill="url(#gb)"/>
<circle cx="559.08" cy="1020.44" r="9.4" fill="url(#gb)"/>
<circle cx="559.72" cy="1016.79" r="9.4" fill="url(#gb)"/>
<circle cx="564.98" cy="996.32" r="9.4" fill="url(#gb)"/>
<circle cx="569.97" cy="981.57" r="9.4" fill="url(#gb)"/>
<circle cx="574.5" cy="969.04" r="9.4" fill="url(#gb)"/>
<circle cx="578.58" cy="960.85" r="9.4" fill="url(#gb)"/>
<circle cx="583.12" cy="954.61" r="9.4" fill="url(#gb)"/>
<circle cx="588.11" cy="950.17" r="9.4" fill="url(#gb)"/>
<circle cx="595.36" cy="946.55" r="9.4" fill="url(#gb)"/>
<polygon points="237.3,1229.2 239.42,1235.29 245.86,1235.42 240.72,1239.31 242.59,1245.48 237.3,1241.8 232.01,1245.48 233.88,1239.31 228.74,1235.42 235.18,1235.29" fill="#808080" stroke="#000" stroke-width="1.3" stroke-linejoin="miter"/>
<polygon points="282.4,1215.3 284.52,1221.39 290.96,1221.52 285.82,1225.41 287.69,1231.58 282.4,1227.9 277.11,1231.58 278.98,1225.41 273.84,1221.52 280.28,1221.39" fill="#808080" stroke="#000" stroke-width="1.3" stroke-linejoin="miter"/>
<polygon points="312,1206.1 314.12,1212.19 320.56,1212.32 315.42,1216.21 317.29,1222.38 312,1218.7 306.71,1222.38 308.58,1216.21 303.44,1212.32 309.88,1212.19" fill="#808080" stroke="#000" stroke-width="1.3" stroke-linejoin="miter"/>
<polygon points="327.8,1204.9 329.92,1210.99 336.36,1211.12 331.22,1215.01 333.09,1221.18 327.8,1217.5 322.51,1221.18 324.38,1215.01 319.24,1211.12 325.68,1210.99" fill="#808080" stroke="#000" stroke-width="1.3" stroke-linejoin="miter"/>
<polygon points="373,1187.5 375.12,1193.59 381.56,1193.72 376.42,1197.61 378.29,1203.78 373,1200.1 367.71,1203.78 369.58,1197.61 364.44,1193.72 370.88,1193.59" fill="#808080" stroke="#000" stroke-width="1.3" stroke-linejoin="miter"/>
<polygon points="388.3,1183 390.42,1189.09 396.86,1189.22 391.72,1193.11 393.59,1199.28 388.3,1195.6 383.01,1199.28 384.88,1193.11 379.74,1189.22 386.18,1189.09" fill="#808080" stroke="#000" stroke-width="1.3" stroke-linejoin="miter"/>
<polygon points="418.4,1173.5 420.52,1179.59 426.96,1179.72 421.82,1183.61 423.69,1189.78 418.4,1186.1 413.11,1189.78 414.98,1183.61 409.84,1179.72 416.28,1179.59" fill="#808080" stroke="#000" stroke-width="1.3" stroke-linejoin="miter"/>
<polygon points="458.8,1160.7 460.92,1166.79 467.36,1166.92 462.22,1170.81 464.09,1176.98 458.8,1173.3 453.51,1176.98 455.38,1170.81 450.24,1166.92 456.68,1166.79" fill="#808080" stroke="#000" stroke-width="1.3" stroke-linejoin="miter"/>
<polygon points="465.2,1157.9 467.32,1163.99 473.76,1164.12 468.62,1168.01 470.49,1174.18 465.2,1170.5 459.91,1174.18 461.78,1168.01 456.64,1164.12 463.08,1163.99" fill="#808080" stroke="#000" stroke-width="1.3" stroke-linejoin="miter"/>
<polygon points="640.6,919.8 642.72,925.89 649.16,926.02 644.02,929.91 645.89,936.08 640.6,932.4 635.31,936.08 637.18,929.91 632.04,926.02 638.48,925.89" fill="#808080" stroke="#000" stroke-width="1.3" stroke-linejoin="miter"/>
<polygon points="654.5,915.4 656.62,921.49 663.06,921.62 657.92,925.51 659.79,931.68 654.5,928 649.21,931.68 651.08,925.51 645.94,921.62 652.38,921.49" fill="#808080" stroke="#000" stroke-width="1.3" stroke-linejoin="miter"/>
<polygon points="717.7,897.1 719.82,903.19 726.26,903.32 721.12,907.21 722.99,913.38 717.7,909.7 712.41,913.38 714.28,907.21 709.14,903.32 715.58,903.19" fill="#808080" stroke="#000" stroke-width="1.3" stroke-linejoin="miter"/>
<polygon points="740.9,890.2 743.02,896.29 749.46,896.42 744.32,900.31 746.19,906.48 740.9,902.8 735.61,906.48 737.48,900.31 732.34,896.42 738.78,896.29" fill="#808080" stroke="#000" stroke-width="1.3" stroke-linejoin="miter"/>
<polygon points="795.1,873.5 797.22,879.59 803.66,879.72 798.52,883.61 800.39,889.78 795.1,886.1 789.81,889.78 791.68,883.61 786.54,879.72 792.98,879.59" fill="#808080" stroke="#000" stroke-width="1.3" stroke-linejoin="miter"/>
<polygon points="826.5,863.9 828.62,869.99 835.06,870.12 829.92,874.01 831.79,880.18 826.5,876.5 821.21,880.18 823.08,874.01 817.94,870.12 824.38,869.99" fill="#808080" stroke="#000" stroke-width="1.3" stroke-linejoin="miter"/>
<polygon points="872,848.5 874.12,854.59 880.56,854.72 875.42,858.61 877.29,864.78 872,861.1 866.71,864.78 868.58,858.61 863.44,854.72 869.88,854.59" fill="#808080" stroke="#000" stroke-width="1.3" stroke-linejoin="miter"/>
<polygon points="595.36,935.82 597.48,941.91 603.92,942.04 598.79,945.93 600.65,952.1 595.36,948.42 590.07,952.1 591.94,945.93 586.8,942.04 593.25,941.91" fill="#808080" stroke="#000" stroke-width="1.3" stroke-linejoin="miter"/>
<polygon points="588.11,939.17 590.22,945.26 596.67,945.39 591.53,949.28 593.4,955.45 588.11,951.77 582.82,955.45 584.68,949.28 579.55,945.39 585.99,945.26" fill="#808080" stroke="#000" stroke-width="1.3" stroke-linejoin="miter"/>
<polygon points="583.12,943.28 585.23,949.37 591.68,949.5 586.54,953.4 588.41,959.56 583.12,955.88 577.83,959.56 579.69,953.4 574.56,949.5 581,949.37" fill="#808080" stroke="#000" stroke-width="1.3" stroke-linejoin="miter"/>
<polygon points="578.58,949.09 580.7,955.18 587.14,955.31 582.01,959.2 583.87,965.37 578.58,961.69 573.29,965.37 575.16,959.2 570.02,955.31 576.47,955.18" fill="#808080" stroke="#000" stroke-width="1.3" stroke-linejoin="miter"/>
<polygon points="574.5,956.74 576.62,962.83 583.06,962.96 577.92,966.85 579.79,973.02 574.5,969.34 569.21,973.02 571.08,966.85 565.94,962.96 572.38,962.83" fill="#808080" stroke="#000" stroke-width="1.3" stroke-linejoin="miter"/>
<polygon points="569.97,968.85 572.08,974.93 578.53,975.06 573.39,978.96 575.26,985.13 569.97,981.45 564.68,985.13 566.54,978.96 561.41,975.06 567.85,974.93" fill="#808080" stroke="#000" stroke-width="1.3" stroke-linejoin="miter"/>
<polygon points="564.98,983.23 567.09,989.32 573.54,989.45 568.4,993.34 570.27,999.51 564.98,995.83 559.69,999.51 561.55,993.34 556.42,989.45 562.86,989.32" fill="#808080" stroke="#000" stroke-width="1.3" stroke-linejoin="miter"/>
<polygon points="559.72,1002.48 561.83,1008.57 568.28,1008.7 563.14,1012.59 565.01,1018.76 559.72,1015.08 554.43,1018.76 556.29,1012.59 551.16,1008.7 557.6,1008.57" fill="#808080" stroke="#000" stroke-width="1.3" stroke-linejoin="miter"/>
<polygon points="559.08,1005.52 561.2,1011.6 567.64,1011.74 562.51,1015.63 564.37,1021.8 559.08,1018.12 553.79,1021.8 555.66,1015.63 550.52,1011.74 556.97,1011.6" fill="#808080" stroke="#000" stroke-width="1.3" stroke-linejoin="miter"/>
<polygon points="558.54,1008.44 560.65,1014.53 567.1,1014.66 561.96,1018.55 563.83,1024.72 558.54,1021.04 553.25,1024.72 555.11,1018.55 549.98,1014.66 556.42,1014.53" fill="#808080" stroke="#000" stroke-width="1.3" stroke-linejoin="miter"/>
<polygon points="557.99,1011.89 560.11,1017.98 566.55,1018.11 561.42,1022 563.28,1028.17 557.99,1024.49 552.7,1028.17 554.57,1022 549.43,1018.11 555.88,1017.98" fill="#808080" stroke="#000" stroke-width="1.3" stroke-linejoin="miter"/>
<polygon points="557.45,1015.72 559.56,1021.81 566.01,1021.94 560.87,1025.83 562.74,1032 557.45,1028.32 552.16,1032 554.03,1025.83 548.89,1021.94 555.33,1021.81" fill="#808080" stroke="#000" stroke-width="1.3" stroke-linejoin="miter"/>
<polygon points="556.9,1019.76 559.02,1025.84 565.46,1025.98 560.33,1029.87 562.19,1036.04 556.9,1032.36 551.61,1036.04 553.48,1029.87 548.35,1025.98 554.79,1025.84" fill="#808080" stroke="#000" stroke-width="1.3" stroke-linejoin="miter"/>
<polygon points="556.36,1024.09 558.48,1030.18 564.92,1030.31 559.78,1034.2 561.65,1040.37 556.36,1036.69 551.07,1040.37 552.94,1034.2 547.8,1030.31 554.24,1030.18" fill="#808080" stroke="#000" stroke-width="1.3" stroke-linejoin="miter"/>
<polygon points="555.82,1028.81 557.93,1034.9 564.38,1035.03 559.24,1038.92 561.11,1045.09 555.82,1041.41 550.53,1045.09 552.39,1038.92 547.26,1035.03 553.7,1034.9" fill="#808080" stroke="#000" stroke-width="1.3" stroke-linejoin="miter"/>
<polygon points="555.27,1033.7 557.39,1039.79 563.83,1039.92 558.7,1043.81 560.56,1049.98 555.27,1046.3 549.98,1049.98 551.85,1043.81 546.71,1039.92 553.16,1039.79" fill="#808080" stroke="#000" stroke-width="1.3" stroke-linejoin="miter"/>
<polygon points="554.73,1038.55 556.84,1044.64 563.29,1044.77 558.15,1048.67 560.02,1054.83 554.73,1051.15 549.44,1054.83 551.3,1048.67 546.17,1044.77 552.61,1044.64" fill="#808080" stroke="#000" stroke-width="1.3" stroke-linejoin="miter"/>
<polygon points="554.18,1043.34 556.3,1049.43 562.74,1049.56 557.61,1053.45 559.47,1059.62 554.18,1055.94 548.89,1059.62 550.76,1053.45 545.62,1049.56 552.07,1049.43" fill="#808080" stroke="#000" stroke-width="1.3" stroke-linejoin="miter"/>
<polygon points="553.64,1048.24 555.76,1054.33 562.2,1054.46 557.06,1058.36 558.93,1064.52 553.64,1060.84 548.35,1064.52 550.22,1058.36 545.08,1054.46 551.52,1054.33" fill="#808080" stroke="#000" stroke-width="1.3" stroke-linejoin="miter"/>
<polygon points="553.1,1053.06 555.21,1059.15 561.65,1059.28 556.52,1063.17 558.39,1069.34 553.1,1065.66 547.81,1069.34 549.67,1063.17 544.54,1059.28 550.98,1059.15" fill="#808080" stroke="#000" stroke-width="1.3" stroke-linejoin="miter"/>
<polygon points="552.55,1057.57 554.67,1063.66 561.11,1063.79 555.97,1067.68 557.84,1073.85 552.55,1070.17 547.26,1073.85 549.13,1067.68 543.99,1063.79 550.44,1063.66" fill="#808080" stroke="#000" stroke-width="1.3" stroke-linejoin="miter"/>
<polygon points="552.01,1061.68 554.12,1067.77 560.57,1067.9 555.43,1071.79 557.3,1077.96 552.01,1074.28 546.72,1077.96 548.58,1071.79 543.45,1067.9 549.89,1067.77" fill="#808080" stroke="#000" stroke-width="1.3" stroke-linejoin="miter"/>
<polygon points="551.46,1065.61 553.58,1071.7 560.02,1071.83 554.89,1075.73 556.75,1081.89 551.46,1078.21 546.17,1081.89 548.04,1075.73 542.9,1071.83 549.35,1071.7" fill="#808080" stroke="#000" stroke-width="1.3" stroke-linejoin="miter"/>
<polygon points="550.92,1069.23 553.03,1075.32 559.48,1075.45 554.34,1079.35 556.21,1085.52 550.92,1081.83 545.63,1085.52 547.49,1079.35 542.36,1075.45 548.8,1075.32" fill="#808080" stroke="#000" stroke-width="1.3" stroke-linejoin="miter"/>
<polygon points="550.19,1073.3 552.31,1079.39 558.75,1079.52 553.62,1083.41 555.48,1089.58 550.19,1085.9 544.9,1089.58 546.77,1083.41 541.63,1079.52 548.08,1079.39" fill="#808080" stroke="#000" stroke-width="1.3" stroke-linejoin="miter"/>
<polygon points="546.7,1087.65 548.82,1093.73 555.26,1093.86 550.12,1097.76 551.99,1103.93 546.7,1100.25 541.41,1103.93 543.28,1097.76 538.14,1093.86 544.58,1093.73" fill="#808080" stroke="#000" stroke-width="1.3" stroke-linejoin="miter"/>
<polygon points="545.02,1093.27 547.14,1099.36 553.58,1099.49 548.45,1103.38 550.31,1109.55 545.02,1105.87 539.73,1109.55 541.6,1103.38 536.46,1099.49 542.91,1099.36" fill="#808080" stroke="#000" stroke-width="1.3" stroke-linejoin="miter"/>
<polygon points="540.71,1106.12 542.83,1112.21 549.27,1112.34 544.14,1116.23 546,1122.4 540.71,1118.72 535.42,1122.4 537.29,1116.23 532.16,1112.34 538.6,1112.21" fill="#808080" stroke="#000" stroke-width="1.3" stroke-linejoin="miter"/>
<polygon points="534.59,1122.58 536.71,1128.66 543.15,1128.8 538.02,1132.69 539.88,1138.86 534.59,1135.18 529.3,1138.86 531.17,1132.69 526.03,1128.8 532.48,1128.66" fill="#808080" stroke="#000" stroke-width="1.3" stroke-linejoin="miter"/>
<polygon points="528.7,1132.72 530.81,1138.81 537.26,1138.94 532.12,1142.83 533.99,1149 528.7,1145.32 523.41,1149 525.27,1142.83 520.14,1138.94 526.58,1138.81" fill="#808080" stroke="#000" stroke-width="1.3" stroke-linejoin="miter"/>
<polygon points="522.35,1139.03 524.46,1145.12 530.91,1145.25 525.77,1149.15 527.64,1155.32 522.35,1151.63 517.06,1155.32 518.92,1149.15 513.79,1145.25 520.23,1145.12" fill="#808080" stroke="#000" stroke-width="1.3" stroke-linejoin="miter"/>
<polygon points="515.55,1142.65 517.66,1148.73 524.11,1148.87 518.97,1152.76 520.84,1158.93 515.55,1155.25 510.26,1158.93 512.12,1152.76 506.99,1148.87 513.43,1148.73" fill="#808080" stroke="#000" stroke-width="1.3" stroke-linejoin="miter"/>
<polygon points="507.84,1144.4 509.95,1150.49 516.4,1150.62 511.26,1154.51 513.13,1160.68 507.84,1157 502.55,1160.68 504.41,1154.51 499.28,1150.62 505.72,1150.49" fill="#808080" stroke="#000" stroke-width="1.3" stroke-linejoin="miter"/>
<polygon points="507.84,1144.59 509.95,1150.68 516.4,1150.81 511.26,1154.71 513.13,1160.87 507.84,1157.19 502.55,1160.87 504.41,1154.71 499.28,1150.81 505.72,1150.68" fill="#808080" stroke="#000" stroke-width="1.3" stroke-linejoin="miter"/>
<polygon points="515.55,1142.91 517.66,1149 524.11,1149.13 518.97,1153.02 520.84,1159.19 515.55,1155.51 510.26,1159.19 512.12,1153.02 506.99,1149.13 513.43,1149" fill="#808080" stroke="#000" stroke-width="1.3" stroke-linejoin="miter"/>
<polygon points="522.35,1139.55 524.46,1145.63 530.91,1145.77 525.77,1149.66 527.64,1155.83 522.35,1152.15 517.06,1155.83 518.92,1149.66 513.79,1145.77 520.23,1145.63" fill="#808080" stroke="#000" stroke-width="1.3" stroke-linejoin="miter"/>
<polygon points="528.7,1133.69 530.81,1139.78 537.26,1139.91 532.12,1143.8 533.99,1149.97 528.7,1146.29 523.41,1149.97 525.27,1143.8 520.14,1139.91 526.58,1139.78" fill="#808080" stroke="#000" stroke-width="1.3" stroke-linejoin="miter"/>
<polygon points="534.59,1124.2 536.71,1130.28 543.15,1130.41 538.02,1134.31 539.88,1140.48 534.59,1136.8 529.3,1140.48 531.17,1134.31 526.03,1130.41 532.48,1130.28" fill="#808080" stroke="#000" stroke-width="1.3" stroke-linejoin="miter"/>
<polygon points="540.71,1108.24 542.83,1114.32 549.27,1114.45 544.14,1118.35 546,1124.52 540.71,1120.84 535.42,1124.52 537.29,1118.35 532.16,1114.45 538.6,1114.32" fill="#808080" stroke="#000" stroke-width="1.3" stroke-linejoin="miter"/>
<polygon points="545.02,1095.77 547.14,1101.86 553.58,1101.99 548.45,1105.88 550.31,1112.05 545.02,1108.37 539.73,1112.05 541.6,1105.88 536.46,1101.99 542.91,1101.86" fill="#808080" stroke="#000" stroke-width="1.3" stroke-linejoin="miter"/>
<polygon points="546.7,1090.24 548.82,1096.32 555.26,1096.46 550.12,1100.35 551.99,1106.52 546.7,1102.84 541.41,1106.52 543.28,1100.35 538.14,1096.46 544.58,1096.32" fill="#808080" stroke="#000" stroke-width="1.3" stroke-linejoin="miter"/>
<polygon points="550.19,1076.94 552.31,1083.02 558.75,1083.16 553.62,1087.05 555.48,1093.22 550.19,1089.54 544.9,1093.22 546.77,1087.05 541.63,1083.16 548.08,1083.02" fill="#808080" stroke="#000" stroke-width="1.3" stroke-linejoin="miter"/>
<polygon points="550.92,1073.48 553.03,1079.57 559.48,1079.7 554.34,1083.6 556.21,1089.76 550.92,1086.08 545.63,1089.76 547.49,1083.6 542.36,1079.7 548.8,1079.57" fill="#808080" stroke="#000" stroke-width="1.3" stroke-linejoin="miter"/>
<polygon points="551.46,1070.56 553.58,1076.65 560.02,1076.78 554.89,1080.67 556.75,1086.84 551.46,1083.16 546.17,1086.84 548.04,1080.67 542.9,1076.78 549.35,1076.65" fill="#808080" stroke="#000" stroke-width="1.3" stroke-linejoin="miter"/>
<polygon points="552.01,1067.11 554.12,1073.2 560.57,1073.33 555.43,1077.22 557.3,1083.39 552.01,1079.71 546.72,1083.39 548.58,1077.22 543.45,1073.33 549.89,1073.2" fill="#808080" stroke="#000" stroke-width="1.3" stroke-linejoin="miter"/>
<polygon points="552.55,1063.28 554.67,1069.37 561.11,1069.5 555.97,1073.39 557.84,1079.56 552.55,1075.88 547.26,1079.56 549.13,1073.39 543.99,1069.5 550.44,1069.37" fill="#808080" stroke="#000" stroke-width="1.3" stroke-linejoin="miter"/>
<polygon points="553.1,1059.24 555.21,1065.33 561.65,1065.46 556.52,1069.36 558.39,1075.52 553.1,1071.84 547.81,1075.52 549.67,1069.36 544.54,1065.46 550.98,1065.33" fill="#808080" stroke="#000" stroke-width="1.3" stroke-linejoin="miter"/>
<polygon points="553.64,1054.91 555.76,1061 562.2,1061.13 557.06,1065.02 558.93,1071.19 553.64,1067.51 548.35,1071.19 550.22,1065.02 545.08,1061.13 551.52,1061" fill="#808080" stroke="#000" stroke-width="1.3" stroke-linejoin="miter"/>
<polygon points="554.18,1050.19 556.3,1056.28 562.74,1056.41 557.61,1060.3 559.47,1066.47 554.18,1062.79 548.89,1066.47 550.76,1060.3 545.62,1056.41 552.07,1056.28" fill="#808080" stroke="#000" stroke-width="1.3" stroke-linejoin="miter"/>
<polygon points="554.73,1045.3 556.84,1051.39 563.29,1051.52 558.15,1055.41 560.02,1061.58 554.73,1057.9 549.44,1061.58 551.3,1055.41 546.17,1051.52 552.61,1051.39" fill="#808080" stroke="#000" stroke-width="1.3" stroke-linejoin="miter"/>
<polygon points="555.27,1040.45 557.39,1046.53 563.83,1046.67 558.7,1050.56 560.56,1056.73 555.27,1053.05 549.98,1056.73 551.85,1050.56 546.71,1046.67 553.16,1046.53" fill="#808080" stroke="#000" stroke-width="1.3" stroke-linejoin="miter"/>
<polygon points="555.82,1035.66 557.93,1041.75 564.38,1041.88 559.24,1045.77 561.11,1051.94 555.82,1048.26 550.53,1051.94 552.39,1045.77 547.26,1041.88 553.7,1041.75" fill="#808080" stroke="#000" stroke-width="1.3" stroke-linejoin="miter"/>
<polygon points="556.36,1030.76 558.48,1036.84 564.92,1036.98 559.78,1040.87 561.65,1047.04 556.36,1043.36 551.07,1047.04 552.94,1040.87 547.8,1036.98 554.24,1036.84" fill="#808080" stroke="#000" stroke-width="1.3" stroke-linejoin="miter"/>
<polygon points="556.9,1025.94 559.02,1032.03 565.46,1032.16 560.33,1036.05 562.19,1042.22 556.9,1038.54 551.61,1042.22 553.48,1036.05 548.35,1032.16 554.79,1032.03" fill="#808080" stroke="#000" stroke-width="1.3" stroke-linejoin="miter"/>
<polygon points="557.45,1021.43 559.56,1027.52 566.01,1027.65 560.87,1031.54 562.74,1037.71 557.45,1034.03 552.16,1037.71 554.03,1031.54 548.89,1027.65 555.33,1027.52" fill="#808080" stroke="#000" stroke-width="1.3" stroke-linejoin="miter"/>
<polygon points="557.99,1017.32 560.11,1023.41 566.55,1023.54 561.42,1027.43 563.28,1033.6 557.99,1029.92 552.7,1033.6 554.57,1027.43 549.43,1023.54 555.88,1023.41" fill="#808080" stroke="#000" stroke-width="1.3" stroke-linejoin="miter"/>
<polygon points="558.54,1013.39 560.65,1019.47 567.1,1019.61 561.96,1023.5 563.83,1029.67 558.54,1025.99 553.25,1029.67 555.11,1023.5 549.98,1019.61 556.42,1019.47" fill="#808080" stroke="#000" stroke-width="1.3" stroke-linejoin="miter"/>
<polygon points="559.08,1009.77 561.2,1015.85 567.64,1015.98 562.51,1019.88 564.37,1026.05 559.08,1022.37 553.79,1026.05 555.66,1019.88 550.52,1015.98 556.97,1015.85" fill="#808080" stroke="#000" stroke-width="1.3" stroke-linejoin="miter"/>
<polygon points="559.72,1006.16 561.83,1012.24 568.28,1012.37 563.14,1016.27 565.01,1022.44 559.72,1018.76 554.43,1022.44 556.29,1016.27 551.16,1012.37 557.6,1012.24" fill="#808080" stroke="#000" stroke-width="1.3" stroke-linejoin="miter"/>
<polygon points="564.98,985.73 567.09,991.82 573.54,991.95 568.4,995.84 570.27,1002.01 564.98,998.33 559.69,1002.01 561.55,995.84 556.42,991.95 562.86,991.82" fill="#808080" stroke="#000" stroke-width="1.3" stroke-linejoin="miter"/>
<polygon points="569.97,970.99 572.08,977.08 578.53,977.21 573.39,981.1 575.26,987.27 569.97,983.59 564.68,987.27 566.54,981.1 561.41,977.21 567.85,977.08" fill="#808080" stroke="#000" stroke-width="1.3" stroke-linejoin="miter"/>
<polygon points="574.5,958.48 576.62,964.56 583.06,964.7 577.92,968.59 579.79,974.76 574.5,971.08 569.21,974.76 571.08,968.59 565.94,964.7 572.38,964.56" fill="#808080" stroke="#000" stroke-width="1.3" stroke-linejoin="miter"/>
<polygon points="578.58,950.3 580.7,956.39 587.14,956.52 582.01,960.41 583.87,966.58 578.58,962.9 573.29,966.58 575.16,960.41 570.02,956.52 576.47,956.39" fill="#808080" stroke="#000" stroke-width="1.3" stroke-linejoin="miter"/>
<polygon points="583.12,944.08 585.23,950.17 591.68,950.3 586.54,954.2 588.41,960.36 583.12,956.68 577.83,960.36 579.69,954.2 574.56,950.3 581,950.17" fill="#808080" stroke="#000" stroke-width="1.3" stroke-linejoin="miter"/>
<polygon points="588.11,939.65 590.22,945.74 596.67,945.87 591.53,949.77 593.4,955.93 588.11,952.25 582.82,955.93 584.68,949.77 579.55,945.87 585.99,945.74" fill="#808080" stroke="#000" stroke-width="1.3" stroke-linejoin="miter"/>
<polygon points="595.36,936.04 597.48,942.13 603.92,942.26 598.79,946.16 600.65,952.32 595.36,948.64 590.07,952.32 591.94,946.16 586.8,942.26 593.25,942.13" fill="#808080" stroke="#000" stroke-width="1.3" stroke-linejoin="miter"/>
<circle cx="299.4" cy="895.3" r="9.5" fill="url(#gr)"/>
<circle cx="299.4" cy="940.3" r="9.5" fill="url(#gb)"/>
<polygon points="299.4,977.3 301.45,983.18 307.67,983.31 302.71,987.08 304.51,993.04 299.4,989.48 294.29,993.04 296.09,987.08 291.13,983.31 297.35,983.18" fill="#808080" stroke="#000" stroke-width="1.5" stroke-linejoin="miter"/>
<text transform="translate(350.4 908) scale(0.96 1)" font-size="37.5" text-anchor="start" fill="#000" stroke="#000" stroke-width="0.55">2K</text>
<text transform="translate(350.4 952.8) scale(0.96 1)" font-size="37.5" text-anchor="start" fill="#000" stroke="#000" stroke-width="0.55">300K</text>
<text transform="translate(350.4 998) scale(0.96 1)" font-size="37.5" text-anchor="start" fill="#000" stroke="#000" stroke-width="0.55">320K</text>
<text transform="translate(154.4 865.9) scale(0.96 1)" font-size="61" text-anchor="start" fill="#000">(<tspan stroke="#000" stroke-width="1.9" stroke-linejoin="round">c</tspan><tspan dx="2.4" stroke-width="0">)</tspan></text>
<rect x="146.3" y="797.1" width="816.7" height="506.2" fill="none" stroke="#000" stroke-width="3.2"/>
<text transform="translate(128 807.1) scale(0.935 1)" font-size="31" text-anchor="end" fill="#000" stroke="#000" stroke-width="0.55">0.8</text>
<text transform="translate(128 870.35) scale(0.935 1)" font-size="31" text-anchor="end" fill="#000" stroke="#000" stroke-width="0.55">0.6</text>
<text transform="translate(128 933.6) scale(0.935 1)" font-size="31" text-anchor="end" fill="#000" stroke="#000" stroke-width="0.55">0.4</text>
<text transform="translate(128 996.85) scale(0.935 1)" font-size="31" text-anchor="end" fill="#000" stroke="#000" stroke-width="0.55">0.2</text>
<text transform="translate(128 1060.1) scale(0.935 1)" font-size="31" text-anchor="end" fill="#000" stroke="#000" stroke-width="0.55">0.0</text>
<text transform="translate(128 1123.35) scale(0.935 1)" font-size="31" text-anchor="end" fill="#000" stroke="#000" stroke-width="0.55">-0.2</text>
<text transform="translate(128 1186.6) scale(0.935 1)" font-size="31" text-anchor="end" fill="#000" stroke="#000" stroke-width="0.55">-0.4</text>
<text transform="translate(128 1249.85) scale(0.935 1)" font-size="31" text-anchor="end" fill="#000" stroke="#000" stroke-width="0.55">-0.6</text>
<text transform="translate(128 1313.1) scale(0.935 1)" font-size="31" text-anchor="end" fill="#000" stroke="#000" stroke-width="0.55">-0.8</text>
<text transform="translate(190.7 1343.6) scale(0.935 1)" font-size="31" text-anchor="middle" fill="#000" stroke="#000" stroke-width="0.55">-80</text>
<text transform="translate(281.4 1343.6) scale(0.935 1)" font-size="31" text-anchor="middle" fill="#000" stroke="#000" stroke-width="0.55">-60</text>
<text transform="translate(372.1 1343.6) scale(0.935 1)" font-size="31" text-anchor="middle" fill="#000" stroke="#000" stroke-width="0.55">-40</text>
<text transform="translate(462.8 1343.6) scale(0.935 1)" font-size="31" text-anchor="middle" fill="#000" stroke="#000" stroke-width="0.55">-20</text>
<text transform="translate(554.2 1343.6) scale(0.935 1)" font-size="31" text-anchor="middle" fill="#000" stroke="#000" stroke-width="0.55">0</text>
<text transform="translate(644.9 1343.6) scale(0.935 1)" font-size="31" text-anchor="middle" fill="#000" stroke="#000" stroke-width="0.55">20</text>
<text transform="translate(735.6 1343.6) scale(0.935 1)" font-size="31" text-anchor="middle" fill="#000" stroke="#000" stroke-width="0.55">40</text>
<text transform="translate(826.3 1343.6) scale(0.935 1)" font-size="31" text-anchor="middle" fill="#000" stroke="#000" stroke-width="0.55">60</text>
<text transform="translate(917 1343.6) scale(0.935 1)" font-size="31" text-anchor="middle" fill="#000" stroke="#000" stroke-width="0.55">80</text>
<text transform="translate(487 1379) scale(0.95 1)" font-size="37.3" text-anchor="start" fill="#000" stroke="#000" stroke-width="0.55">H (KOe)</text>
<text transform="translate(62.3 1119) rotate(-90) scale(0.95 1)" font-size="37.8" text-anchor="start" fill="#000" stroke="#000" stroke-width="0.55">M (emu)</text>
<rect x="632.0" y="969.0" width="316" height="272.5" fill="#f9e8c4"/>
<line x1="789.8" y1="969" x2="789.8" y2="1241.5" stroke="#000" stroke-width="1.6"/>
<line x1="632" y1="1105" x2="948" y2="1105" stroke="#000" stroke-width="1.6"/>
<line x1="663.2" y1="969" x2="663.2" y2="974.5" stroke="#000" stroke-width="1.5"/>
<line x1="663.2" y1="1241.5" x2="663.2" y2="1247" stroke="#000" stroke-width="1.5"/>
<line x1="694.85" y1="969" x2="694.85" y2="972.5" stroke="#000" stroke-width="1.5"/>
<line x1="694.85" y1="1241.5" x2="694.85" y2="1245" stroke="#000" stroke-width="1.5"/>
<line x1="726.5" y1="969" x2="726.5" y2="974.5" stroke="#000" stroke-width="1.5"/>
<line x1="726.5" y1="1241.5" x2="726.5" y2="1247" stroke="#000" stroke-width="1.5"/>
<line x1="758.15" y1="969" x2="758.15" y2="972.5" stroke="#000" stroke-width="1.5"/>
<line x1="758.15" y1="1241.5" x2="758.15" y2="1245" stroke="#000" stroke-width="1.5"/>
<line x1="789.8" y1="969" x2="789.8" y2="974.5" stroke="#000" stroke-width="1.5"/>
<line x1="789.8" y1="1241.5" x2="789.8" y2="1247" stroke="#000" stroke-width="1.5"/>
<line x1="821.45" y1="969" x2="821.45" y2="972.5" stroke="#000" stroke-width="1.5"/>
<line x1="821.45" y1="1241.5" x2="821.45" y2="1245" stroke="#000" stroke-width="1.5"/>
<line x1="853.1" y1="969" x2="853.1" y2="974.5" stroke="#000" stroke-width="1.5"/>
<line x1="853.1" y1="1241.5" x2="853.1" y2="1247" stroke="#000" stroke-width="1.5"/>
<line x1="884.75" y1="969" x2="884.75" y2="972.5" stroke="#000" stroke-width="1.5"/>
<line x1="884.75" y1="1241.5" x2="884.75" y2="1245" stroke="#000" stroke-width="1.5"/>
<line x1="916.4" y1="969" x2="916.4" y2="974.5" stroke="#000" stroke-width="1.5"/>
<line x1="916.4" y1="1241.5" x2="916.4" y2="1247" stroke="#000" stroke-width="1.5"/>
<line x1="632" y1="1233.25" x2="628.5" y2="1233.25" stroke="#000" stroke-width="1.5"/>
<line x1="948" y1="1233.25" x2="944.5" y2="1233.25" stroke="#000" stroke-width="1.5"/>
<line x1="632" y1="1190.5" x2="626.5" y2="1190.5" stroke="#000" stroke-width="1.5"/>
<line x1="948" y1="1190.5" x2="942.5" y2="1190.5" stroke="#000" stroke-width="1.5"/>
<line x1="632" y1="1147.75" x2="628.5" y2="1147.75" stroke="#000" stroke-width="1.5"/>
<line x1="948" y1="1147.75" x2="944.5" y2="1147.75" stroke="#000" stroke-width="1.5"/>
<line x1="632" y1="1105" x2="626.5" y2="1105" stroke="#000" stroke-width="1.5"/>
<line x1="948" y1="1105" x2="942.5" y2="1105" stroke="#000" stroke-width="1.5"/>
<line x1="632" y1="1062.25" x2="628.5" y2="1062.25" stroke="#000" stroke-width="1.5"/>
<line x1="948" y1="1062.25" x2="944.5" y2="1062.25" stroke="#000" stroke-width="1.5"/>
<line x1="632" y1="1019.5" x2="626.5" y2="1019.5" stroke="#000" stroke-width="1.5"/>
<line x1="948" y1="1019.5" x2="942.5" y2="1019.5" stroke="#000" stroke-width="1.5"/>
<line x1="632" y1="976.75" x2="628.5" y2="976.75" stroke="#000" stroke-width="1.5"/>
<line x1="948" y1="976.75" x2="944.5" y2="976.75" stroke="#000" stroke-width="1.5"/>
<g clip-path="url(#clipI)">
<polyline fill="none" stroke="#ff0000" stroke-width="2" points="972.78,1000.04 946.5,1008.5 902.7,1022.6 857,1039.8 811.3,1058 766.8,1079 721.9,1097.3 676.2,1117.1 633.5,1138 548.1,1179.8"/>
<circle cx="946.5" cy="1008.5" r="8.7" fill="url(#gr)"/>
<circle cx="902.7" cy="1022.6" r="8.7" fill="url(#gr)"/>
<circle cx="857" cy="1039.8" r="8.7" fill="url(#gr)"/>
<circle cx="811.3" cy="1058" r="8.7" fill="url(#gr)"/>
<circle cx="766.8" cy="1079" r="8.7" fill="url(#gr)"/>
<circle cx="721.9" cy="1097.3" r="8.7" fill="url(#gr)"/>
<circle cx="676.2" cy="1117.1" r="8.7" fill="url(#gr)"/>
<circle cx="633.5" cy="1138" r="8.7" fill="url(#gr)"/>
<polyline fill="none" stroke="#ff0000" stroke-width="2" points="955.62,1066.84 946.5,1071.4 931.3,1079 891.3,1096.1 850.2,1114 809.4,1132.3 769.5,1150.6 728.7,1167.3 687.6,1181.8 646.5,1197 632.4,1202.8 604.2,1214.4"/>
<circle cx="946.5" cy="1071.4" r="8.7" fill="url(#gr)"/>
<circle cx="931.3" cy="1079" r="8.7" fill="url(#gr)"/>
<circle cx="891.3" cy="1096.1" r="8.7" fill="url(#gr)"/>
<circle cx="850.2" cy="1114" r="8.7" fill="url(#gr)"/>
<circle cx="809.4" cy="1132.3" r="8.7" fill="url(#gr)"/>
<circle cx="769.5" cy="1150.6" r="8.7" fill="url(#gr)"/>
<circle cx="728.7" cy="1167.3" r="8.7" fill="url(#gr)"/>
<circle cx="687.6" cy="1181.8" r="8.7" fill="url(#gr)"/>
<circle cx="646.5" cy="1197" r="8.7" fill="url(#gr)"/>
<circle cx="632.4" cy="1202.8" r="8.7" fill="url(#gr)"/>
<polyline fill="none" stroke="#0000a8" stroke-width="2" points="972.78,992.48 946.5,1002.8 902.7,1020 857,1042 812.1,1065.7 766.4,1091.6 721.9,1115.9 677.3,1141.8 633.5,1166.6 545.9,1216.2"/>
<circle cx="946.5" cy="1002.8" r="8.7" fill="url(#gb)"/>
<circle cx="902.7" cy="1020" r="8.7" fill="url(#gb)"/>
<circle cx="857" cy="1042" r="8.7" fill="url(#gb)"/>
<circle cx="812.1" cy="1065.7" r="8.7" fill="url(#gb)"/>
<circle cx="766.4" cy="1091.6" r="8.7" fill="url(#gb)"/>
<circle cx="721.9" cy="1115.9" r="8.7" fill="url(#gb)"/>
<circle cx="677.3" cy="1141.8" r="8.7" fill="url(#gb)"/>
<circle cx="633.5" cy="1166.6" r="8.7" fill="url(#gb)"/>
<polyline fill="none" stroke="#0000a8" stroke-width="2" points="955.2,1037.52 946.5,1042.8 932,1051.6 891.3,1074.4 850.2,1096.1 809.4,1119 769.5,1141.8 728.7,1164.7 688.3,1184.9 647.6,1203.9 633.5,1208.5 605.3,1217.7"/>
<circle cx="946.5" cy="1042.8" r="8.7" fill="url(#gb)"/>
<circle cx="932" cy="1051.6" r="8.7" fill="url(#gb)"/>
<circle cx="891.3" cy="1074.4" r="8.7" fill="url(#gb)"/>
<circle cx="850.2" cy="1096.1" r="8.7" fill="url(#gb)"/>
<circle cx="809.4" cy="1119" r="8.7" fill="url(#gb)"/>
<circle cx="769.5" cy="1141.8" r="8.7" fill="url(#gb)"/>
<circle cx="728.7" cy="1164.7" r="8.7" fill="url(#gb)"/>
<circle cx="688.3" cy="1184.9" r="8.7" fill="url(#gb)"/>
<circle cx="647.6" cy="1203.9" r="8.7" fill="url(#gb)"/>
<circle cx="633.5" cy="1208.5" r="8.7" fill="url(#gb)"/>
<path fill="none" stroke="#000" stroke-width="2" d="M962.86 989.26L956.42 992.34M936.58 1001.86L912.62 1013.34M892.99 1023.27L867.51 1036.83M848.1 1047.18L821.8 1061.22M802.6 1071.95L775.9 1087.55M756.96 1098.74L731.34 1114.06M712.46 1125.35L686.74 1140.75M667.7 1151.77L642 1166.13M622.8 1176.87L552.2 1216.33"/>
<polygon points="946.5,989.3 948.47,994.98 954.49,995.1 949.7,998.74 951.44,1004.5 946.5,1001.06 941.56,1004.5 943.3,998.74 938.51,995.1 944.53,994.98" fill="#fff" stroke="#000" stroke-width="1.6" stroke-linejoin="miter"/>
<polygon points="902.7,1010.3 904.67,1015.98 910.69,1016.1 905.9,1019.74 907.64,1025.5 902.7,1022.06 897.76,1025.5 899.5,1019.74 894.71,1016.1 900.73,1015.98" fill="#fff" stroke="#000" stroke-width="1.6" stroke-linejoin="miter"/>
<polygon points="857.8,1034.2 859.77,1039.88 865.79,1040 861,1043.64 862.74,1049.4 857.8,1045.96 852.86,1049.4 854.6,1043.64 849.81,1040 855.83,1039.88" fill="#fff" stroke="#000" stroke-width="1.6" stroke-linejoin="miter"/>
<polygon points="812.1,1058.6 814.07,1064.28 820.09,1064.4 815.3,1068.04 817.04,1073.8 812.1,1070.36 807.16,1073.8 808.9,1068.04 804.11,1064.4 810.13,1064.28" fill="#fff" stroke="#000" stroke-width="1.6" stroke-linejoin="miter"/>
<polygon points="766.4,1085.3 768.37,1090.98 774.39,1091.1 769.6,1094.74 771.34,1100.5 766.4,1097.06 761.46,1100.5 763.2,1094.74 758.41,1091.1 764.43,1090.98" fill="#fff" stroke="#000" stroke-width="1.6" stroke-linejoin="miter"/>
<polygon points="721.9,1111.9 723.87,1117.58 729.89,1117.7 725.1,1121.34 726.84,1127.1 721.9,1123.66 716.96,1127.1 718.7,1121.34 713.91,1117.7 719.93,1117.58" fill="#fff" stroke="#000" stroke-width="1.6" stroke-linejoin="miter"/>
<polygon points="677.3,1138.6 679.27,1144.28 685.29,1144.4 680.5,1148.04 682.24,1153.8 677.3,1150.36 672.36,1153.8 674.1,1148.04 669.31,1144.4 675.33,1144.28" fill="#fff" stroke="#000" stroke-width="1.6" stroke-linejoin="miter"/>
<polygon points="632.4,1163.7 634.37,1169.38 640.39,1169.5 635.6,1173.14 637.34,1178.9 632.4,1175.46 627.46,1178.9 629.2,1173.14 624.41,1169.5 630.43,1169.38" fill="#fff" stroke="#000" stroke-width="1.6" stroke-linejoin="miter"/>
<path fill="none" stroke="#000" stroke-width="2" d="M922.52 1052.19L900.78 1065.01M881.76 1076.08L859.74 1088.72M840.72 1099.78L818.88 1112.62M799.93 1123.8L778.97 1136.2M759.91 1147.18L738.29 1159.32M718.93 1169.75L698.07 1180.55M678.52 1190.64L657.38 1201.56M622.75 1220.17L611.65 1226.23"/>
<polygon points="946.5,1032 948.47,1037.68 954.49,1037.8 949.7,1041.44 951.44,1047.2 946.5,1043.76 941.56,1047.2 943.3,1041.44 938.51,1037.8 944.53,1037.68" fill="#fff" stroke="#000" stroke-width="1.6" stroke-linejoin="miter"/>
<polygon points="932,1038.8 933.97,1044.48 939.99,1044.6 935.2,1048.24 936.94,1054 932,1050.56 927.06,1054 928.8,1048.24 924.01,1044.6 930.03,1044.48" fill="#fff" stroke="#000" stroke-width="1.6" stroke-linejoin="miter"/>
<polygon points="891.3,1062.8 893.27,1068.48 899.29,1068.6 894.5,1072.24 896.24,1078 891.3,1074.56 886.36,1078 888.1,1072.24 883.31,1068.6 889.33,1068.48" fill="#fff" stroke="#000" stroke-width="1.6" stroke-linejoin="miter"/>
<polygon points="850.2,1086.4 852.17,1092.08 858.19,1092.2 853.4,1095.84 855.14,1101.6 850.2,1098.16 845.26,1101.6 847,1095.84 842.21,1092.2 848.23,1092.08" fill="#fff" stroke="#000" stroke-width="1.6" stroke-linejoin="miter"/>
<polygon points="809.4,1110.4 811.37,1116.08 817.39,1116.2 812.6,1119.84 814.34,1125.6 809.4,1122.16 804.46,1125.6 806.2,1119.84 801.41,1116.2 807.43,1116.08" fill="#fff" stroke="#000" stroke-width="1.6" stroke-linejoin="miter"/>
<polygon points="769.5,1134 771.47,1139.68 777.49,1139.8 772.7,1143.44 774.44,1149.2 769.5,1145.76 764.56,1149.2 766.3,1143.44 761.51,1139.8 767.53,1139.68" fill="#fff" stroke="#000" stroke-width="1.6" stroke-linejoin="miter"/>
<polygon points="728.7,1156.9 730.67,1162.58 736.69,1162.7 731.9,1166.34 733.64,1172.1 728.7,1168.66 723.76,1172.1 725.5,1166.34 720.71,1162.7 726.73,1162.58" fill="#fff" stroke="#000" stroke-width="1.6" stroke-linejoin="miter"/>
<polygon points="688.3,1177.8 690.27,1183.48 696.29,1183.6 691.5,1187.24 693.24,1193 688.3,1189.56 683.36,1193 685.1,1187.24 680.31,1183.6 686.33,1183.48" fill="#fff" stroke="#000" stroke-width="1.6" stroke-linejoin="miter"/>
<polygon points="647.6,1198.8 649.57,1204.48 655.59,1204.6 650.8,1208.24 652.54,1214 647.6,1210.56 642.66,1214 644.4,1208.24 639.61,1204.6 645.63,1204.48" fill="#fff" stroke="#000" stroke-width="1.6" stroke-linejoin="miter"/>
<polygon points="632.4,1207.1 634.37,1212.78 640.39,1212.9 635.6,1216.54 637.34,1222.3 632.4,1218.86 627.46,1222.3 629.2,1216.54 624.41,1212.9 630.43,1212.78" fill="#fff" stroke="#000" stroke-width="1.6" stroke-linejoin="miter"/>
</g>
<path d="M948.0 969.0H632.0V1241.5H948.0" fill="none" stroke="#000" stroke-width="2"/>
<text transform="translate(626.3 1025) scale(0.95 1)" font-size="15.8" text-anchor="end" fill="#000" stroke="#000" stroke-width="0.15">0.05</text>
<text transform="translate(626.3 1110.4) scale(0.95 1)" font-size="15.8" text-anchor="end" fill="#000" stroke="#000" stroke-width="0.15">0.00</text>
<text transform="translate(626.3 1195.9) scale(0.95 1)" font-size="15.8" text-anchor="end" fill="#000" stroke="#000" stroke-width="0.15">-0.05</text>
<text transform="translate(661.7 1270) scale(0.94 1)" font-size="25.5" text-anchor="middle" fill="#000" stroke="#000" stroke-width="0.2">-400</text>
<text transform="translate(725 1270) scale(0.94 1)" font-size="25.5" text-anchor="middle" fill="#000" stroke="#000" stroke-width="0.2">-200</text>
<text transform="translate(789.8 1270) scale(0.94 1)" font-size="25.5" text-anchor="middle" fill="#000" stroke="#000" stroke-width="0.2">0</text>
<text transform="translate(853.1 1270) scale(0.94 1)" font-size="25.5" text-anchor="middle" fill="#000" stroke="#000" stroke-width="0.2">200</text>
<text transform="translate(916.4 1270) scale(0.94 1)" font-size="25.5" text-anchor="middle" fill="#000" stroke="#000" stroke-width="0.2">400</text>
<text transform="translate(754 1290) scale(0.95 1)" font-size="24.5" text-anchor="start" fill="#000" stroke="#000" stroke-width="0.2">H (Oe)</text>
<text transform="translate(584.8 1140) rotate(-90) scale(0.95 1)" font-size="18.5" text-anchor="start" fill="#000" stroke="#000" stroke-width="0.15">M (emu)</text>
</svg></body></html>
